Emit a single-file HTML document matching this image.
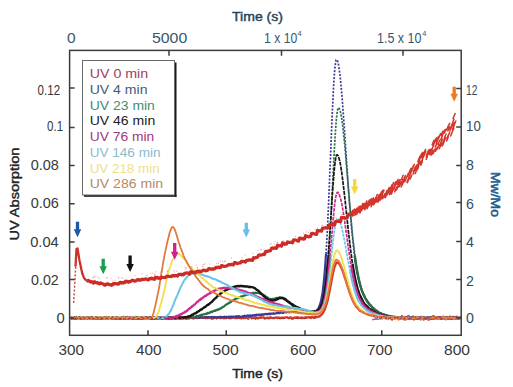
<!DOCTYPE html>
<html><head><meta charset="utf-8">
<style>
html,body{margin:0;padding:0;background:#fff;}
svg{display:block;}
text{font-family:"Liberation Sans",sans-serif;}
</style></head>
<body>
<svg width="513" height="387" viewBox="0 0 513 387">
<rect width="513" height="387" fill="#fff"/>
<!-- curves -->
<g>
<path d="M70.5,317.82 L71.5,317.65 L72.5,318.15 L73.5,317.57 L74.5,318.03 L75.5,317.86 L76.5,317.55 L77.5,318 L78.5,317.53 L79.5,317.93 L80.5,317.56 L81.5,317.58 L82.5,317.91 L83.5,318.32 L84.5,317.61 L85.5,317.71 L86.5,318.11 L87.5,318.43 L88.5,318.06 L89.5,317.88 L90.5,318.46 L91.5,317.53 L92.5,318.34 L93.5,317.77 L94.5,317.62 L95.5,317.59 L96.5,317.78 L97.5,318.29 L98.5,317.65 L99.5,318.05 L100.5,318.11 L101.5,317.84 L102.5,318.02 L103.5,317.53 L104.5,317.53 L105.5,317.67 L106.5,318.14 L107.5,317.89 L108.5,317.77 L109.5,318.04 L110.5,317.91 L111.5,317.76 L112.5,318.25 L113.5,318.15 L114.5,317.7 L115.5,318.02 L116.5,317.97 L117.5,318.32 L118.5,318.18 L119.5,317.73 L120.5,318.42 L121.5,317.56 L122.5,317.86 L123.5,318.2 L124.5,317.59 L125.5,317.92 L126.5,317.47 L127.5,318.1 L128.5,318.2 L129.5,318 L130.5,318.3 L131.5,317.74 L132.5,318.12 L133.5,318.02 L134.5,318 L135.5,317.88 L136.5,318.26 L137.5,318.36 L138.5,317.89 L139.5,318.08 L140.5,317.47 L141.5,318.11 L142.5,318.05 L143.5,318.4 L144.5,318.23 L145.5,317.69 L146.5,317.79 L147.5,318.07 L148.5,317.42 L149.5,317.86 L150.5,317.56 L151.5,317.51 L152.5,317.45 L153.5,318.16 L154.5,317.52 L155.5,317.63 L156.5,317.77 L157.5,318.25 L158.5,317.46 L159.5,317.83 L160.5,317.92 L161.5,318.26 L162.5,318.19 L163.5,318.23 L164.5,317.65 L165.5,317.78 L166.5,317.72 L167.5,318.25 L168.5,318.32 L169.5,317.51 L170.5,317.53 L171.5,317.59 L172.5,317.59 L173.5,317.84 L174.5,317.94 L175.5,317.61 L176.5,317.35 L177.5,317.76 L178.5,317.71 L179.5,317.91 L180.5,318.29 L181.5,318.03 L182.5,317.85 L183.5,317.95 L184.5,318.01 L185.5,317.38 L186.5,318.23 L187.5,318.11 L188.5,318.2 L189.5,318.12 L190.5,317.71 L191.5,317.72 L192.5,317.42 L193.5,317.95 L194.5,317.38 L195.5,317.38 L196.5,317.52 L197.5,317.47 L198.5,317.65 L199.5,317.36 L200.5,317.3 L201.5,317.45 L202.5,317.4 L203.5,317.66 L204.5,317.32 L205.5,318.17 L206.5,317.91 L207.5,317.44 L208.5,317.54 L209.5,317.64 L210.5,317.65 L211.5,317.41 L212.5,318.13 L213.5,318.28 L214.5,317.75 L215.5,317.76 L216.5,317.36 L217.5,317.38 L218.5,317.62 L219.5,317.54 L220.5,318.1 L221.5,317.43 L222.5,317.29 L223.5,318.22 L224.5,317.79 L225.5,317.41 L226.5,317.81 L227.5,317.29 L228.5,317.79 L229.5,318.24 L230.5,318.12 L231.5,317.95 L232.5,317.51 L233.5,317.62 L234.5,317.42 L235.5,318.02 L236.5,317.78 L237.5,318.03 L238.5,317.57 L239.5,317.47 L240.5,318.05 L241.5,318.23 L242.5,318.09 L243.5,318.04 L244.5,318.06 L245.5,317.98 L246.5,317.46 L247.5,317.75 L248.5,317.59 L249.5,317.26 L250.5,317.26 L251.5,317.51 L252.5,317.49 L253.5,317.92 L254.5,318.18 L255.5,317.67 L256.5,318.16 L257.5,318.21 L258.5,318.18 L259.5,317.59 L260.5,317.44 L261.5,317.45 L262.5,317.41 L263.5,317.42 L264.5,317.84 L265.5,318.12 L266.5,318.05 L267.5,317.69 L268.5,317.87 L269.5,318.01 L270.5,317.3 L271.5,317.87 L272.5,318.12 L273.5,317.99 L274.5,317.96 L275.5,317.69 L276.5,317.39 L277.5,318 L278.5,317.54 L279.5,318.01 L280.5,318.18 L281.5,317.6 L282.5,317.61 L283.5,318.15 L284.5,317.93 L285.5,317.37 L286.5,317.33 L287.5,317.35 L288.5,318.11 L289.5,318.01 L290.5,317.35 L291.5,318.03 L292.5,318.18 L293.5,317.85 L294.5,317.55 L295.5,317.74 L296.5,317.32 L297.5,317.2 L298.5,318.15 L299.5,317.83 L300.5,317.7 L301.5,318.1 L302.5,317.59 L303.5,318.02 L304.5,317.96 L305.5,317.32 L306.5,317.34 L307.5,317.36 L308.5,317.28 L309.5,317.59 L310.5,317.22 L311.5,317.33 L312.5,316.98 L313.5,317.68 L314.5,317.04 L315.5,317.02 L316.5,317 L317.5,317.11 L318.5,316.34 L319.5,316.43 L320.5,315.44 L321.5,314.67 L322.5,313.57 L323.5,311.74 L324.5,310.08 L325.5,307.39 L326.5,304.14 L327.5,300.93 L328.5,296.11 L329.5,291.41 L330.5,286.32 L331.5,280.81 L332.5,275.42 L333.5,270.83 L334.5,266.96 L335.5,264.33 L336.5,262.41 L337.5,262.61 L338.5,262.97 L339.5,264.11 L340.5,266.08 L341.5,267.98 L342.5,270.49 L343.5,273.41 L344.5,276.51 L345.5,279.33 L346.5,282.65 L347.5,285.76 L348.5,288.87 L349.5,291.96 L350.5,294.58 L351.5,297.22 L352.5,299.54 L353.5,301.98 L354.5,303.7 L355.5,305.49 L356.5,306.99 L357.5,307.77 L358.5,309.07 L359.5,310.28 L360.5,311.02 L361.5,311.23 L362.5,311.82 L363.5,312.58 L364.5,312.79 L365.5,313.32 L366.5,313.57 L367.5,314.32 L368.5,314.71 L369.5,315.07 L370.5,314.7 L371.5,315.5 L372.5,315.67 L373.5,315.36 L374.5,316.29 L375.5,316.55 L376.5,315.97 L377.5,316.85 L378.5,316.44 L379.5,316.66 L380.5,317.28 L381.5,317.24 L382.5,316.67 L383.5,317.03 L384.5,317.2 L385.5,317.1 L386.5,317.03 L387.5,317.21 L388.5,317.67 L389.5,317.02 L390.5,317.6 L391.5,317.53 L392.5,317.15 L393.5,317.49 L394.5,317.81 L395.5,317.73 L396.5,317.3 L397.5,318.25 L398.5,318.07 L399.5,318.27 L400.5,317.42 L401.5,317.59 L402.5,317.38 L403.5,318.13 L404.5,317.63 L405.5,317.49 L406.5,317.79 L407.5,318.29 L408.5,318.2 L409.5,317.65 L410.5,317.54 L411.5,318.32 L412.5,317.97 L413.5,318.11 L414.5,317.5 L415.5,317.47 L416.5,318.11 L417.5,317.85 L418.5,317.5 L419.5,318.37 L420.5,318.06 L421.5,318.23 L422.5,317.52 L423.5,318.29 L424.5,317.51 L425.5,318.3 L426.5,317.9 L427.5,317.79 L428.5,318 L429.5,318.38 L430.5,317.72 L431.5,317.58 L432.5,317.98 L433.5,317.7 L434.5,317.57 L435.5,317.62 L436.5,317.52 L437.5,317.67 L438.5,317.78 L439.5,317.78 L440.5,318.23 L441.5,317.76 L442.5,317.98 L443.5,317.66 L444.5,317.83 L445.5,317.5 L446.5,317.73 L447.5,317.5 L448.5,318.22 L449.5,318.04 L450.5,317.68 L451.5,317.96 L452.5,318.43 L453.5,317.6 L454.5,318.31 L455.5,317.93 L456.5,317.99 L457.5,318.33 L458.5,317.89 L459.5,318.01 L460.5,318.19" stroke="#d83a2a" stroke-width="2.4" fill="none" stroke-linejoin="round"/>
<path d="M70.5,318.48 L71,317.84 L71.5,318.33 L72,318.2 L72.5,318.13 L73,317.9 L73.5,317.84 L74,317.55 L74.5,317.62 L75,317.56 L75.5,318.23 L76,317.74 L76.5,317.65 L77,317.57 L77.5,318.33 L78,318.36 L78.5,318.15 L79,317.77 L79.5,317.72 L80,317.77 L80.5,317.94 L81,317.64 L81.5,317.92 L82,317.74 L82.5,318.44 L83,318.45 L83.5,318.02 L84,317.72 L84.5,318.44 L85,317.78 L85.5,317.83 L86,317.47 L86.5,317.85 L87,317.94 L87.5,317.97 L88,317.67 L88.5,317.97 L89,317.47 L89.5,317.73 L90,317.55 L90.5,317.86 L91,317.5 L91.5,317.48 L92,317.76 L92.5,317.69 L93,318.04 L93.5,317.99 L94,318.21 L94.5,318.11 L95,318.17 L95.5,318.33 L96,317.84 L96.5,317.78 L97,318.44 L97.5,317.6 L98,318.17 L98.5,318.09 L99,317.49 L99.5,318.28 L100,318.34 L100.5,318.07 L101,318.18 L101.5,318.25 L102,317.58 L102.5,317.96 L103,317.94 L103.5,318.27 L104,318.24 L104.5,318.26 L105,318.02 L105.5,318.33 L106,318.12 L106.5,318.13 L107,317.66 L107.5,317.46 L108,317.56 L108.5,317.79 L109,317.53 L109.5,318.26 L110,317.98 L110.5,318.05 L111,318.05 L111.5,318.1 L112,317.91 L112.5,317.42 L113,318.22 L113.5,318.17 L114,317.92 L114.5,317.95 L115,318.07 L115.5,317.48 L116,318.15 L116.5,317.66 L117,317.48 L117.5,317.67 L118,318.14 L118.5,317.61 L119,318.15 L119.5,318.38 L120,317.9 L120.5,317.78 L121,317.88 L121.5,318.08 L122,318.17 L122.5,318.01 L123,318.04 L123.5,317.47 L124,317.54 L124.5,317.65 L125,318.13 L125.5,317.69 L126,317.96 L126.5,317.4 L127,317.45 L127.5,317.65 L128,318.05 L128.5,318.07 L129,318.06 L129.5,317.67 L130,317.89 L130.5,317.84 L131,317.84 L131.5,317.49 L132,318.26 L132.5,317.57 L133,318.35 L133.5,318.3 L134,317.38 L134.5,317.82 L135,318.18 L135.5,318.33 L136,317.81 L136.5,317.63 L137,317.57 L137.5,318.3 L138,317.56 L138.5,317.93 L139,317.49 L139.5,317.87 L140,318.3 L140.5,317.48 L141,318.16 L141.5,317.85 L142,318.23 L142.5,318.04 L143,317.57 L143.5,318.23 L144,317.82 L144.5,317.36 L145,317.33 L145.5,317.82 L146,317.78 L146.5,317.62 L147,317.46 L147.5,317.66 L148,317.63 L148.5,318.16 L149,317.32 L149.5,318.06 L150,318.15 L150.5,317.43 L151,318.23 L151.5,318.02 L152,318.2 L152.5,317.59 L153,317.67 L153.5,317.69 L154,318.29 L154.5,317.88 L155,317.65 L155.5,317.71 L156,317.56 L156.5,317.33 L157,317.38 L157.5,318.11 L158,317.56 L158.5,318.21 L159,317.52 L159.5,317.53 L160,317.78 L160.5,317.45 L161,317.63 L161.5,318.21 L162,318.14 L162.5,318.07 L163,317.88 L163.5,318.16 L164,318.19 L164.5,317.79 L165,317.96 L165.5,317.29 L166,317.97 L166.5,317.68 L167,317.98 L167.5,317.87 L168,317.51 L168.5,317.27 L169,318.15 L169.5,317.34 L170,317.69 L170.5,317.55 L171,317.51 L171.5,317.94 L172,318.18 L172.5,317.46 L173,317.85 L173.5,317.49 L174,317.75 L174.5,317.58 L175,317.35 L175.5,317.34 L176,317.39 L176.5,318.08 L177,317.67 L177.5,317.39 L178,318.07 L178.5,318.16 L179,317.61 L179.5,317.3 L180,317.35 L180.5,317.24 L181,317.49 L181.5,317.23 L182,317.38 L182.5,317.39 L183,317.7 L183.5,318.02 L184,317.88 L184.5,317.54 L185,317.53 L185.5,317.64 L186,317.49 L186.5,317.45 L187,317.17 L187.5,317.38 L188,318.06 L188.5,317.22 L189,317.59 L189.5,317.72 L190,317.95 L190.5,317.29 L191,317.35 L191.5,317.32 L192,317.47 L192.5,317.51 L193,318.01 L193.5,317.9 L194,317.92 L194.5,317.07 L195,317.07 L195.5,317.75 L196,317.93 L196.5,317.5 L197,317.61 L197.5,317.02 L198,317.41 L198.5,317.94 L199,317.83 L199.5,317.86 L200,317.97 L200.5,317.24 L201,317.1 L201.5,317.14 L202,317.5 L202.5,317.66 L203,317.91 L203.5,317.69 L204,317.61 L204.5,317.72 L205,317.41 L205.5,317.5 L206,316.98 L206.5,317.72 L207,317.16 L207.5,317.85 L208,317.56 L208.5,317.22 L209,317.04 L209.5,317.15 L210,317.53 L210.5,317.59 L211,316.99 L211.5,316.94 L212,317.39 L212.5,317.44 L213,317.24 L213.5,317.07 L214,317.44 L214.5,316.84 L215,317.12 L215.5,317.27 L216,317.76 L216.5,317.44 L217,317.67 L217.5,317.25 L218,317 L218.5,317 L219,317.71 L219.5,317.44 L220,317.03 L220.5,316.73 L221,317.2 L221.5,317.36 L222,317.1 L222.5,316.92 L223,317.32 L223.5,317.56 L224,316.85 L224.5,316.65 L225,316.94 L225.5,317.01 L226,317.25 L226.5,316.75 L227,317.34 L227.5,317.26 L228,317.01 L228.5,316.7 L229,317.45 L229.5,316.77 L230,317.26 L230.5,316.65 L231,316.63 L231.5,317.15 L232,316.66 L232.5,317.3 L233,316.82 L233.5,316.49 L234,316.51 L234.5,316.68 L235,316.91 L235.5,317.17 L236,316.34 L236.5,316.57 L237,316.36 L237.5,317.1 L238,316.24 L238.5,316.13 L239,316.11 L239.5,316.42 L240,316.9 L240.5,316.86 L241,316.68 L241.5,316.91 L242,316.81 L242.5,316.18 L243,316 L243.5,316.72 L244,316.49 L244.5,315.74 L245,316.34 L245.5,316.01 L246,315.97 L246.5,315.88 L247,315.68 L247.5,315.47 L248,315.71 L248.5,315.73 L249,316.29 L249.5,315.42 L250,316.21 L250.5,315.41 L251,315.51 L251.5,315.93 L252,315.88 L252.5,315.44 L253,315.01 L253.5,315.38 L254,315.23 L254.5,315.73 L255,314.95 L255.5,315.07 L256,315.56 L256.5,314.64 L257,314.97 L257.5,315.32 L258,315.14 L258.5,314.58 L259,314.52 L259.5,314.49 L260,315.04 L260.5,314.53 L261,314.82 L261.5,314.87 L262,314.43 L262.5,314.33 L263,314.76 L263.5,314.47 L264,314.18 L264.5,314.44 L265,314.11 L265.5,314.04 L266,313.8 L266.5,314.28 L267,314.34 L267.5,314.1 L268,314.27 L268.5,313.58 L269,313.68 L269.5,313.81 L270,314.1 L270.5,314.06 L271,313.62 L271.5,313.48 L272,313.57 L272.5,313.57 L273,313.82 L273.5,313.26 L274,313.64 L274.5,313.55 L275,313.56 L275.5,313.47 L276,313.31 L276.5,313.06 L277,313 L277.5,312.98 L278,313.22 L278.5,312.68 L279,312.71 L279.5,313.04 L280,312.64 L280.5,312.46 L281,312.39 L281.5,312.7 L282,312.49 L282.5,312.9 L283,312.79 L283.5,312.82 L284,312.27 L284.5,312.1 L285,312.06 L285.5,312.3 L286,312.41 L286.5,312.19 L287,312.01 L287.5,312.1 L288,312.21 L288.5,312.22 L289,312.25 L289.5,312.29 L290,312.14 L290.5,311.75 L291,312.23 L291.5,311.84 L292,312.02 L292.5,311.87 L293,312.12 L293.5,311.74 L294,311.78 L294.5,311.78 L295,311.72 L295.5,312.25 L296,312.05 L296.5,311.9 L297,311.97 L297.5,312.42 L298,312.11 L298.5,311.95 L299,312.4 L299.5,312.33 L300,312.61 L300.5,312.03 L301,312.34 L301.5,312.63 L302,312.69 L302.5,312.79 L303,312.23 L303.5,312.45 L304,312.37 L304.5,312.47 L305,313.05 L305.5,312.82 L306,313.1 L306.5,312.73 L307,313.1 L307.5,312.83 L308,312.71 L308.5,313.08 L309,313.2 L309.5,312.6 L310,312.92 L310.5,312.91 L311,312.58 L311.5,312.63 L312,312.4 L312.5,312.36 L313,312.28 L313.5,312.39 L314,312.27 L314.5,311.77 L315,311.4 L315.5,311.35 L316,311.26 L316.5,310.52 L317,310.13 L317.5,309.47 L318,309.19 L318.5,308.19 L319,306.86 L319.5,305.71 L320,304.52 L320.5,302.96 L321,301.06 L321.5,298.36 L322,295.7 L322.5,292.91 L323,289.05 L323.5,284.75 L324,279.96 L324.5,274.96 L325,268.37 L325.5,261.69 L326,253.94" stroke="#3a3a9a" stroke-width="2.2" fill="none" stroke-linejoin="round"/>
<path d="M326,253.94 L326.5,245.63 L327,236.84 L327.5,227.12 L328,216.18 L328.5,204.95 L329,193.68 L329.5,181.25 L330,168.75 L330.5,156.87 L331,144.05 L331.5,132.03 L332,119.82 L332.5,108.82 L333,97.95 L333.5,88.14 L334,79.57 L334.5,72.78 L335,67.12 L335.5,63.14 L336,60.04 L336.5,59.59 L337,59.77 L337.5,60.89 L338,62.31 L338.5,64.72 L339,67.82 L339.5,71.63 L340,75.15 L340.5,80.03 L341,85.36 L341.5,91.03 L342,96.46 L342.5,102.73 L343,109.93 L343.5,116.84 L344,123.59 L344.5,130.56 L345,138.55 L345.5,145.61 L346,153.44 L346.5,160.7 L347,168.23 L347.5,175.06 L348,182.66 L348.5,189.28 L349,196.23 L349.5,203.15 L350,209.52 L350.5,215.21 L351,221.13 L351.5,226.88 L352,232.31 L352.5,237.3 L353,241.92 L353.5,246.55 L354,251.15 L354.5,255.28" stroke="#3a3a9a" stroke-width="1.7" fill="none" stroke-dasharray="2 1.5"/>
<path d="M354.5,255.28 L355,258.43 L355.5,262.3 L356,265.72 L356.5,268.27 L357,271.67 L357.5,273.8 L358,276.6 L358.5,278.84 L359,281.01 L359.5,282.75 L360,284.66 L360.5,286.47 L361,287.94 L361.5,289.58 L362,290.81 L362.5,292.08 L363,293 L363.5,294.54 L364,295.52 L364.5,296.34 L365,297.66 L365.5,298.56 L366,299.19 L366.5,299.8 L367,300.78 L367.5,301.26 L368,301.98 L368.5,302.86 L369,303.27 L369.5,304.14 L370,304.79 L370.5,305.03 L371,306 L371.5,306.15 L372,307.12 L372.5,307.65 L373,307.94 L373.5,308.08 L374,308.84 L374.5,309.18 L375,310 L375.5,309.83 L376,310.72 L376.5,311.18 L377,311.36 L377.5,311.76 L378,311.65 L378.5,312.52 L379,312.48 L379.5,313.1 L380,313.35 L380.5,313.1 L381,313.79 L381.5,314.14 L382,313.77 L382.5,314.2 L383,314.7 L383.5,314.48 L384,315.2 L384.5,314.88 L385,315.6 L385.5,315.09 L386,315.6 L386.5,316.16 L387,315.59 L387.5,315.78 L388,316.14 L388.5,316.07 L389,315.9 L389.5,316.15 L390,316.23 L390.5,317.1 L391,316.93 L391.5,317.23 L392,316.58 L392.5,317.27 L393,316.67 L393.5,317.15 L394,317.31 L394.5,317.09 L395,317.66 L395.5,317.39 L396,317.47 L396.5,317.81 L397,317.08 L397.5,318 L398,317.68 L398.5,317.47 L399,317.91 L399.5,317.41 L400,318.16 L400.5,317.77 L401,317.58 L401.5,318 L402,317.7 L402.5,317.46 L403,318.04 L403.5,317.36 L404,318.15 L404.5,317.6 L405,317.99 L405.5,318.35 L406,317.96 L406.5,318.05 L407,317.71 L407.5,317.41 L408,317.45 L408.5,317.57 L409,318.04 L409.5,317.87 L410,317.95 L410.5,318.34 L411,317.58 L411.5,317.68 L412,318.11 L412.5,317.48 L413,317.47 L413.5,317.82 L414,317.58 L414.5,317.83 L415,317.7 L415.5,318.06 L416,318.07 L416.5,317.69 L417,318.11 L417.5,317.96 L418,317.62 L418.5,318.43 L419,317.73 L419.5,317.64 L420,317.59 L420.5,318.13 L421,318.36 L421.5,318.28 L422,317.9 L422.5,317.76 L423,317.51 L423.5,318.14 L424,318.06 L424.5,317.85 L425,318.14 L425.5,317.94 L426,318.43 L426.5,318.23 L427,317.75 L427.5,318.4 L428,317.54 L428.5,318.03 L429,317.9 L429.5,317.74 L430,317.56 L430.5,318.28 L431,317.51 L431.5,318.05 L432,318.44 L432.5,317.64 L433,317.7 L433.5,318.11 L434,318.01 L434.5,318.14 L435,318.31 L435.5,317.67 L436,317.81 L436.5,317.8 L437,317.55 L437.5,318.39 L438,318.28 L438.5,318.22 L439,317.51 L439.5,318.34 L440,318.25 L440.5,317.97 L441,318.24 L441.5,317.95 L442,317.73 L442.5,317.61 L443,317.73 L443.5,317.54 L444,317.84 L444.5,318.25 L445,318.2 L445.5,318.35 L446,318.21 L446.5,317.77 L447,318.05 L447.5,317.94 L448,318.29 L448.5,318.02 L449,317.77 L449.5,318.14 L450,318.47 L450.5,317.72 L451,318.38 L451.5,317.52 L452,317.76 L452.5,317.74 L453,318.24 L453.5,318.44 L454,318.25 L454.5,317.83 L455,318.38 L455.5,317.83 L456,317.74 L456.5,318.41 L457,318.13 L457.5,318.19 L458,318.17 L458.5,318.48 L459,317.97 L459.5,318.34 L460,318.2 L460.5,318.36" stroke="#3a3a9a" stroke-width="2.2" fill="none" stroke-linejoin="round"/>
<path d="M70.5,317.94 L71,318.22 L71.5,318.07 L72,317.81 L72.5,317.71 L73,318.12 L73.5,317.58 L74,318.41 L74.5,317.64 L75,317.53 L75.5,317.61 L76,318.43 L76.5,317.84 L77,317.64 L77.5,317.53 L78,317.54 L78.5,318.19 L79,318.13 L79.5,318.2 L80,318.24 L80.5,317.57 L81,318.09 L81.5,317.86 L82,318.32 L82.5,318.32 L83,318.39 L83.5,317.57 L84,318.37 L84.5,318.41 L85,318.44 L85.5,317.61 L86,317.71 L86.5,317.61 L87,317.53 L87.5,318.35 L88,318.31 L88.5,318.13 L89,318.33 L89.5,318.13 L90,317.79 L90.5,317.6 L91,317.6 L91.5,318.26 L92,317.7 L92.5,317.82 L93,317.92 L93.5,317.52 L94,317.76 L94.5,317.78 L95,318.22 L95.5,317.87 L96,317.82 L96.5,318.46 L97,318 L97.5,318.35 L98,318.12 L98.5,317.53 L99,317.91 L99.5,317.94 L100,318.27 L100.5,317.85 L101,318.2 L101.5,318.04 L102,317.72 L102.5,318.36 L103,317.59 L103.5,318.32 L104,317.67 L104.5,317.5 L105,317.7 L105.5,318.26 L106,318.48 L106.5,317.5 L107,317.99 L107.5,317.99 L108,318.3 L108.5,317.68 L109,317.99 L109.5,317.85 L110,318.33 L110.5,317.76 L111,318.44 L111.5,317.78 L112,317.71 L112.5,318.2 L113,318 L113.5,317.61 L114,318.14 L114.5,317.58 L115,318.29 L115.5,318.2 L116,318.29 L116.5,318.13 L117,317.86 L117.5,317.9 L118,317.89 L118.5,318.39 L119,317.59 L119.5,318.39 L120,317.53 L120.5,317.71 L121,317.76 L121.5,318.4 L122,318 L122.5,317.88 L123,318.38 L123.5,317.73 L124,317.96 L124.5,318.03 L125,318.25 L125.5,318.25 L126,318.15 L126.5,317.85 L127,317.83 L127.5,317.66 L128,318.34 L128.5,318.16 L129,318.24 L129.5,317.67 L130,317.94 L130.5,318.27 L131,318.08 L131.5,317.63 L132,317.96 L132.5,318.39 L133,317.74 L133.5,317.69 L134,317.8 L134.5,318.2 L135,318.34 L135.5,317.65 L136,317.66 L136.5,317.75 L137,317.83 L137.5,318.02 L138,317.66 L138.5,317.83 L139,317.69 L139.5,318.48 L140,318.23 L140.5,317.6 L141,318.46 L141.5,317.6 L142,317.88 L142.5,318.48 L143,318.29 L143.5,318.23 L144,317.93 L144.5,317.7 L145,318.14 L145.5,317.61 L146,317.71 L146.5,317.89 L147,317.53 L147.5,317.9 L148,318.29 L148.5,318.19 L149,318 L149.5,318.13 L150,317.96 L150.5,317.64 L151,318.1 L151.5,317.9 L152,318.24 L152.5,318.41 L153,317.93 L153.5,318.07 L154,318.25 L154.5,317.92 L155,317.73 L155.5,318.22 L156,318.38 L156.5,318.27 L157,318.2 L157.5,318.35 L158,318.18 L158.5,318.14 L159,317.95 L159.5,317.81 L160,318.13 L160.5,317.6 L161,317.92 L161.5,318.28 L162,318.21 L162.5,318.13 L163,317.75 L163.5,317.92 L164,317.96 L164.5,318.12 L165,317.91 L165.5,318.18 L166,318.43 L166.5,317.68 L167,318.15 L167.5,318.28 L168,317.89 L168.5,317.99 L169,318.47 L169.5,317.54 L170,318.04 L170.5,317.66 L171,318.28 L171.5,318.44 L172,318.02 L172.5,317.6 L173,318.07 L173.5,318.04 L174,318.22 L174.5,318.01 L175,318.14 L175.5,318.33 L176,318.02 L176.5,317.91 L177,318.45 L177.5,317.71 L178,318.18 L178.5,317.89 L179,318.26 L179.5,317.62 L180,318.48 L180.5,317.86 L181,317.56 L181.5,317.77 L182,317.9 L182.5,317.51 L183,317.92 L183.5,317.92 L184,318.2 L184.5,317.85 L185,317.77 L185.5,317.7 L186,318.18 L186.5,318.34 L187,317.88 L187.5,317.53 L188,318.06 L188.5,317.6 L189,317.36 L189.5,317.22 L190,317.8 L190.5,317.77 L191,317.52 L191.5,317.28 L192,317.29 L192.5,316.87 L193,317.52 L193.5,316.82 L194,317.01 L194.5,317.1 L195,317 L195.5,316.54 L196,316.26 L196.5,316.41 L197,315.87 L197.5,316.47 L198,315.87 L198.5,316.25 L199,315.54 L199.5,315.52 L200,315.27 L200.5,315.31 L201,314.94 L201.5,314.62 L202,315.13 L202.5,314.68 L203,314.51 L203.5,314.41 L204,314.38 L204.5,314.2 L205,314.19 L205.5,314.05 L206,313.69 L206.5,313.92 L207,313.71 L207.5,312.99 L208,313.36 L208.5,313.25 L209,313 L209.5,312.38 L210,312.69 L210.5,312.38 L211,311.77 L211.5,311.6 L212,312.08 L212.5,311.69 L213,311.23 L213.5,310.94 L214,310.79 L214.5,310.67 L215,310.86 L215.5,310.38 L216,310.06 L216.5,310.4 L217,310.13 L217.5,309.49 L218,309.79 L218.5,309.37 L219,309.25 L219.5,308.93 L220,308.84 L220.5,308.5 L221,308.26 L221.5,307.53 L222,307.59 L222.5,307.19 L223,307.04 L223.5,306.52 L224,306.52 L224.5,305.97 L225,305.45 L225.5,305.11 L226,304.72 L226.5,304.64 L227,304 L227.5,303.96 L228,303.4 L228.5,303.31 L229,302.99 L229.5,302.69 L230,302.58 L230.5,301.66 L231,301.92 L231.5,301.34 L232,301.09 L232.5,300.85 L233,300.67 L233.5,300.04 L234,299.78 L234.5,299.87 L235,298.97 L235.5,299.1 L236,298.83 L236.5,298.16 L237,298.33 L237.5,298.16 L238,298.12 L238.5,297.5 L239,297.75 L239.5,297.23 L240,297.03 L240.5,297.14 L241,296.36 L241.5,296.67 L242,296.43 L242.5,296.06 L243,296.25 L243.5,295.73 L244,295.63 L244.5,295.48 L245,295.47 L245.5,294.9 L246,294.87 L246.5,294.68 L247,294.59 L247.5,294.6 L248,294.06 L248.5,294.27 L249,293.81 L249.5,293.73 L250,293.43 L250.5,293.46 L251,293.67 L251.5,293.34 L252,293.34 L252.5,292.94 L253,292.87 L253.5,292.81 L254,292.98 L254.5,292.99 L255,293.08 L255.5,292.55 L256,293.04 L256.5,293.17 L257,292.97 L257.5,292.67 L258,292.9 L258.5,292.77 L259,292.98 L259.5,293.59 L260,293.49 L260.5,293.65 L261,293.88 L261.5,294.12 L262,294.08 L262.5,294.29 L263,294.55 L263.5,294.9 L264,295.17 L264.5,295.6 L265,295.66 L265.5,296.38 L266,296.63 L266.5,297.24 L267,297.16 L267.5,297.58 L268,297.81 L268.5,298.62 L269,298.97 L269.5,298.98 L270,298.91 L270.5,299.3 L271,299.32 L271.5,299.18 L272,298.95 L272.5,298.94 L273,298.96 L273.5,298.81 L274,298.8 L274.5,298.84 L275,298.92 L275.5,298.19 L276,298.42 L276.5,297.92 L277,297.86 L277.5,298.22 L278,297.95 L278.5,298.1 L279,297.69 L279.5,297.32 L280,297.54 L280.5,297.67 L281,297.92 L281.5,298 L282,297.72 L282.5,297.79 L283,297.72 L283.5,298.29 L284,298.22 L284.5,298.44 L285,298.63 L285.5,298.94 L286,299.76 L286.5,299.74 L287,300.72 L287.5,300.51 L288,301.48 L288.5,301.4 L289,301.76 L289.5,302.71 L290,302.83 L290.5,303.64 L291,303.71 L291.5,304.08 L292,305.04 L292.5,305.44 L293,305.97 L293.5,306.31 L294,306.26 L294.5,307.04 L295,307.46 L295.5,307.63 L296,308.28 L296.5,308.1 L297,308.87 L297.5,308.95 L298,308.69 L298.5,308.9 L299,309.54 L299.5,309.84 L300,309.49 L300.5,309.81 L301,310.25 L301.5,309.99 L302,310.6 L302.5,310.47 L303,310.29 L303.5,310.62 L304,310.89 L304.5,310.91 L305,311.19 L305.5,310.92 L306,311.49 L306.5,311.28 L307,311.58 L307.5,311.66 L308,311.59 L308.5,311.65 L309,312 L309.5,312.17 L310,312.11 L310.5,312 L311,311.84 L311.5,311.71 L312,312.36 L312.5,312.17 L313,312.24 L313.5,311.86 L314,312.01 L314.5,312.2 L315,312.01 L315.5,311.74 L316,311.4 L316.5,311.32 L317,311.45 L317.5,310.86 L318,310.81 L318.5,310.43 L319,310.26 L319.5,309.74 L320,308.82 L320.5,307.97 L321,307.37 L321.5,306.54 L322,305.54 L322.5,304.37 L323,302.84 L323.5,300.39 L324,298.77 L324.5,296.21 L325,293.3 L325.5,289.71 L326,285.62 L326.5,281.63 L327,276.64 L327.5,271.02 L328,265.04 L328.5,257.9 L329,250.36" stroke="#2a7040" stroke-width="2.2" fill="none" stroke-linejoin="round"/>
<path d="M329,250.36 L329.5,242.76 L330,234.45 L330.5,225.05 L331,216.03 L331.5,206.41 L332,195.93 L332.5,186.08 L333,176.03 L333.5,165.95 L334,156.13 L334.5,147 L335,138.81 L335.5,131.08 L336,124.01 L336.5,117.97 L337,113.85 L337.5,110.47 L338,108.07 L338.5,107.66 L339,108.19 L339.5,109.02 L340,110.14 L340.5,112 L341,114.47 L341.5,117.06 L342,120.39 L342.5,124.13 L343,128.65 L343.5,132.93 L344,137.91 L344.5,142.93 L345,148.39 L345.5,153.73 L346,159.42 L346.5,165.98 L347,171.53 L347.5,177.39 L348,183.82 L348.5,189.97 L349,195.53 L349.5,201.76 L350,207.4 L350.5,213.21 L351,218.4 L351.5,223.77 L352,229.63 L352.5,234.53 L353,239.05 L353.5,243.67 L354,247.8 L354.5,252.29 L355,255.95" stroke="#2a7040" stroke-width="1.7" fill="none" stroke-dasharray="2.2 1.3"/>
<path d="M355,255.95 L355.5,260 L356,263.35 L356.5,266.64 L357,269.79 L357.5,272.15 L358,274.67 L358.5,277.27 L359,279.57 L359.5,281.65 L360,283.63 L360.5,285.84 L361,287.79 L361.5,289.11 L362,290.94 L362.5,292.3 L363,293 L363.5,294.58 L364,295.57 L364.5,296.42 L365,298 L365.5,298.43 L366,299.52 L366.5,300.4 L367,301.4 L367.5,301.93 L368,302.44 L368.5,303.15 L369,303.58 L369.5,304.75 L370,305.35 L370.5,305.37 L371,305.77 L371.5,306.44 L372,307 L372.5,307.86 L373,308.33 L373.5,308.72 L374,308.59 L374.5,309.52 L375,309.87 L375.5,310.21 L376,310.81 L376.5,310.52 L377,310.93 L377.5,311.69 L378,312.14 L378.5,312.26 L379,312.29 L379.5,312.79 L380,313.18 L380.5,312.99 L381,313.39 L381.5,313.59 L382,313.73 L382.5,314.21 L383,314.21 L383.5,314.46 L384,314.59 L384.5,315.21 L385,314.73 L385.5,315.59 L386,315.22 L386.5,315.2 L387,316.23 L387.5,315.65 L388,316.49 L388.5,316.54 L389,316.67 L389.5,316.03 L390,316.44 L390.5,316.18 L391,317.1 L391.5,317.1 L392,316.97 L392.5,316.87 L393,316.83 L393.5,317.38 L394,317.09 L394.5,317.3 L395,316.87 L395.5,317.01 L396,316.89 L396.5,317.59 L397,317.48 L397.5,317.11 L398,317.87 L398.5,317.3 L399,317.48 L399.5,317.26 L400,317.4 L400.5,318 L401,317.52 L401.5,317.38 L402,317.72 L402.5,317.57 L403,318.17 L403.5,317.4 L404,318.28 L404.5,317.38 L405,318.23 L405.5,318.02 L406,317.57 L406.5,317.85 L407,317.67 L407.5,317.65 L408,317.6 L408.5,317.77 L409,318.41 L409.5,318.42 L410,318.36 L410.5,317.53 L411,317.73 L411.5,318.34 L412,317.51 L412.5,318.18 L413,317.75 L413.5,318.44 L414,317.48 L414.5,318.28 L415,317.81 L415.5,317.62 L416,317.48 L416.5,318.31 L417,318.01 L417.5,317.67 L418,317.92 L418.5,318.4 L419,317.71 L419.5,318.06 L420,317.63 L420.5,317.67 L421,318.26 L421.5,318.2 L422,317.69 L422.5,317.57 L423,317.58 L423.5,318.1 L424,317.99 L424.5,317.77 L425,317.7 L425.5,318.11 L426,318.2 L426.5,318.31 L427,318.08 L427.5,317.7 L428,317.56 L428.5,318.23 L429,317.91 L429.5,318.22 L430,317.55 L430.5,318.31 L431,317.83 L431.5,318.34 L432,318.36 L432.5,317.99 L433,317.51 L433.5,318.41 L434,317.98 L434.5,318.37 L435,317.77 L435.5,317.69 L436,318.33 L436.5,317.87 L437,317.66 L437.5,317.87 L438,318.09 L438.5,317.5 L439,318.02 L439.5,317.95 L440,318.02 L440.5,317.62 L441,318.21 L441.5,318.32 L442,318.37 L442.5,317.82 L443,318.21 L443.5,317.88 L444,318.25 L444.5,317.56 L445,318.37 L445.5,318.45 L446,317.99 L446.5,318.01 L447,318.03 L447.5,318.04 L448,317.52 L448.5,318.47 L449,317.72 L449.5,317.68 L450,317.6 L450.5,317.75 L451,318.32 L451.5,317.53 L452,317.6 L452.5,318.2 L453,317.7 L453.5,317.52 L454,318.1 L454.5,318.08 L455,318.02 L455.5,318.2 L456,317.6 L456.5,318.37 L457,318.22 L457.5,317.55 L458,317.62 L458.5,317.99 L459,318 L459.5,317.78 L460,317.62 L460.5,317.91" stroke="#2a7040" stroke-width="2.2" fill="none" stroke-linejoin="round"/>
<path d="M70.5,317.64 L71,318.09 L71.5,318.36 L72,317.65 L72.5,318.07 L73,318.25 L73.5,317.66 L74,318.33 L74.5,318.44 L75,317.89 L75.5,317.92 L76,318.34 L76.5,318.03 L77,317.9 L77.5,318.44 L78,318.28 L78.5,317.84 L79,317.74 L79.5,317.84 L80,317.94 L80.5,318.48 L81,318.3 L81.5,318.41 L82,318.32 L82.5,318.35 L83,317.55 L83.5,318.02 L84,318.46 L84.5,318.43 L85,317.75 L85.5,317.92 L86,318.13 L86.5,317.86 L87,318.03 L87.5,317.57 L88,317.93 L88.5,318 L89,317.52 L89.5,317.64 L90,318.47 L90.5,318.28 L91,318.44 L91.5,318.13 L92,318.31 L92.5,318.38 L93,318.38 L93.5,317.53 L94,318.14 L94.5,317.77 L95,318.18 L95.5,317.77 L96,318.04 L96.5,318.42 L97,318.12 L97.5,317.75 L98,318.02 L98.5,317.93 L99,318.45 L99.5,317.79 L100,317.81 L100.5,318.15 L101,317.62 L101.5,318.09 L102,318.46 L102.5,318.01 L103,317.77 L103.5,317.97 L104,318.03 L104.5,317.65 L105,317.62 L105.5,317.63 L106,317.79 L106.5,317.91 L107,317.79 L107.5,317.74 L108,317.59 L108.5,318.05 L109,318.34 L109.5,318.11 L110,318.07 L110.5,318.15 L111,317.7 L111.5,318.21 L112,317.96 L112.5,318.05 L113,318.11 L113.5,317.97 L114,317.81 L114.5,317.74 L115,317.72 L115.5,318.01 L116,317.88 L116.5,318.09 L117,317.51 L117.5,317.85 L118,318.36 L118.5,317.74 L119,318.06 L119.5,317.99 L120,317.78 L120.5,318.49 L121,317.8 L121.5,318.27 L122,317.66 L122.5,317.57 L123,318.37 L123.5,317.94 L124,317.56 L124.5,317.89 L125,317.94 L125.5,318.24 L126,317.61 L126.5,317.73 L127,318.46 L127.5,318.24 L128,317.65 L128.5,317.84 L129,317.85 L129.5,318.18 L130,318.12 L130.5,318.35 L131,318.32 L131.5,318.02 L132,318.24 L132.5,318.24 L133,318.26 L133.5,317.98 L134,318.28 L134.5,318.21 L135,318.41 L135.5,317.63 L136,318.37 L136.5,317.5 L137,318.27 L137.5,318.09 L138,318 L138.5,318.46 L139,318.07 L139.5,317.92 L140,318.28 L140.5,318.37 L141,318.11 L141.5,317.88 L142,317.95 L142.5,317.96 L143,318.22 L143.5,317.79 L144,317.89 L144.5,318.06 L145,317.88 L145.5,317.82 L146,318.29 L146.5,318.35 L147,318 L147.5,317.94 L148,317.68 L148.5,317.8 L149,317.64 L149.5,318.08 L150,318.08 L150.5,317.59 L151,318.42 L151.5,317.82 L152,318.34 L152.5,318.34 L153,318.46 L153.5,317.7 L154,317.93 L154.5,318.41 L155,317.51 L155.5,317.55 L156,318.06 L156.5,318 L157,318.42 L157.5,318.27 L158,318.04 L158.5,318.5 L159,318.02 L159.5,318.02 L160,318.19 L160.5,317.89 L161,317.86 L161.5,318.09 L162,317.85 L162.5,318.45 L163,318.18 L163.5,318.03 L164,317.6 L164.5,317.87 L165,317.9 L165.5,318.06 L166,318.07 L166.5,318.38 L167,318.46 L167.5,317.99 L168,317.94 L168.5,318.12 L169,318.5 L169.5,317.84 L170,318.03 L170.5,318.32 L171,317.67 L171.5,317.82 L172,318.48 L172.5,318.33 L173,318.01 L173.5,317.61 L174,318.39 L174.5,318.19 L175,318.32 L175.5,318.49 L176,318.39 L176.5,317.92 L177,317.66 L177.5,317.78 L178,317.99 L178.5,317.98 L179,317.65 L179.5,317.63 L180,318.06 L180.5,318.02 L181,317.74 L181.5,318.35 L182,317.96 L182.5,317.33 L183,317.65 L183.5,317.97 L184,317.43 L184.5,317.74 L185,316.97 L185.5,317.18 L186,317.62 L186.5,317.25 L187,317.21 L187.5,316.6 L188,316.75 L188.5,316.64 L189,316.17 L189.5,316.36 L190,316.03 L190.5,316.27 L191,315.62 L191.5,315.22 L192,314.69 L192.5,314.57 L193,314.74 L193.5,314.02 L194,313.74 L194.5,313.52 L195,313.48 L195.5,313.4 L196,312.96 L196.5,312.8 L197,311.97 L197.5,311.63 L198,311.85 L198.5,311.22 L199,311.17 L199.5,310.59 L200,310.13 L200.5,309.87 L201,309.42 L201.5,309.64 L202,309.07 L202.5,308.56 L203,308.28 L203.5,307.89 L204,307.3 L204.5,307.53 L205,306.96 L205.5,306.86 L206,306.14 L206.5,305.9 L207,305.28 L207.5,304.77 L208,305.03 L208.5,304.61 L209,303.87 L209.5,303.9 L210,303.45 L210.5,302.68 L211,302.46 L211.5,302.27 L212,301.5 L212.5,301.35 L213,300.39 L213.5,300.01 L214,299.76 L214.5,298.93 L215,298.5 L215.5,298.41 L216,297.65 L216.5,297.39 L217,296.53 L217.5,296.02 L218,295.69 L218.5,295.12 L219,295.24 L219.5,294.34 L220,294.13 L220.5,293.44 L221,293.37 L221.5,292.92 L222,292.6 L222.5,292.05 L223,291.77 L223.5,291.95 L224,291.31 L224.5,290.94 L225,290.61 L225.5,290.38 L226,290.07 L226.5,289.66 L227,289.83 L227.5,289.35 L228,288.97 L228.5,289.11 L229,288.44 L229.5,288.34 L230,288.52 L230.5,287.81 L231,287.83 L231.5,287.91 L232,287.71 L232.5,287.09 L233,287.06 L233.5,287.16 L234,286.78 L234.5,287.05 L235,286.41 L235.5,286.82 L236,286.4 L236.5,286.13 L237,286.21 L237.5,285.93 L238,286.28 L238.5,285.93 L239,286.35 L239.5,286.12 L240,285.95 L240.5,285.87 L241,286.13 L241.5,285.87 L242,286.36 L242.5,285.87 L243,286.18 L243.5,286.24 L244,286.1 L244.5,286.5 L245,286.28 L245.5,286.53 L246,286.53 L246.5,286.41 L247,286.53 L247.5,286.39 L248,286.52 L248.5,287.05 L249,286.75 L249.5,287.05 L250,286.73 L250.5,287.11 L251,287.04 L251.5,287.22 L252,287.17 L252.5,287.13 L253,287.43 L253.5,287.53 L254,287.65 L254.5,288.28 L255,288.23 L255.5,288.6 L256,289.29 L256.5,289.55 L257,290.02 L257.5,290.41 L258,290.32 L258.5,290.87 L259,291.15 L259.5,292.08 L260,292.54 L260.5,292.81 L261,293.35 L261.5,294.02 L262,294.54 L262.5,294.72 L263,295.63 L263.5,295.77 L264,296.44 L264.5,296.59 L265,297 L265.5,298 L266,298.29 L266.5,298.68 L267,298.59 L267.5,298.95 L268,299.36 L268.5,299.67 L269,299.98 L269.5,300.21 L270,300.1 L270.5,300.38 L271,300.66 L271.5,300.36 L272,300.81 L272.5,300.6 L273,300.66 L273.5,300.28 L274,300.35 L274.5,300.45 L275,300.08 L275.5,299.67 L276,300.05 L276.5,299.79 L277,299.21 L277.5,298.8 L278,299.13 L278.5,298.73 L279,298.12 L279.5,298.07 L280,297.83 L280.5,298.2 L281,297.73 L281.5,298.22 L282,298.17 L282.5,297.84 L283,298.43 L283.5,298.43 L284,298.93 L284.5,299.26 L285,299.18 L285.5,299.38 L286,300.33 L286.5,300.32 L287,301.05 L287.5,301.27 L288,301.69 L288.5,302.14 L289,302.38 L289.5,302.63 L290,302.72 L290.5,303.51 L291,303.65 L291.5,304 L292,304.58 L292.5,304.3 L293,305.03 L293.5,304.82 L294,305.56 L294.5,305.92 L295,305.82 L295.5,306.29 L296,306.87 L296.5,306.91 L297,307.11 L297.5,307.17 L298,307.3 L298.5,307.76 L299,308.05 L299.5,308.15 L300,308.46 L300.5,308.57 L301,309.19 L301.5,309.38 L302,309.29 L302.5,309.49 L303,309.87 L303.5,309.99 L304,310.51 L304.5,310.25 L305,310.36 L305.5,310.91 L306,310.52 L306.5,310.94 L307,310.89 L307.5,311.32 L308,311.23 L308.5,311.46 L309,311.13 L309.5,311.54 L310,311.55 L310.5,311.51 L311,311.76 L311.5,311.84 L312,311.36 L312.5,311.5 L313,311.56 L313.5,311.44 L314,311.32 L314.5,311.43 L315,311.31 L315.5,311.57 L316,311.26 L316.5,310.86 L317,310.8 L317.5,310.64 L318,310.24 L318.5,309.71 L319,309.16 L319.5,308.52 L320,308.5 L320.5,307.48 L321,305.99 L321.5,305.22 L322,303.98 L322.5,302 L323,299.73 L323.5,297.73 L324,295.07 L324.5,291.92 L325,288.77 L325.5,284.58 L326,280.95 L326.5,276.02 L327,270.81 L327.5,265.36 L328,259.05" stroke="#151515" stroke-width="2.3" fill="none" stroke-linejoin="round"/>
<path d="M328,259.05 L328.5,252.23 L329,245.3 L329.5,237.97 L330,230.38 L330.5,223.2 L331,215.45 L331.5,207.29 L332,199.54 L332.5,192.44 L333,185.52 L333.5,178.99 L334,172.48 L334.5,167.64 L335,163.22 L335.5,159.6 L336,156.73 L336.5,155.08 L337,155.03 L337.5,154.92 L338,155.61 L338.5,156.81 L339,158.15 L339.5,160.32 L340,162.13 L340.5,164.57 L341,167.84 L341.5,171.1 L342,174.73 L342.5,178.39 L343,182.5 L343.5,186.69 L344,190.7 L344.5,195.16 L345,199.48 L345.5,204.21 L346,209.08 L346.5,213.42 L347,218.52 L347.5,222.79 L348,227.56 L348.5,232.43 L349,236.21 L349.5,240.46 L350,244.9 L350.5,248.73 L351,252.96 L351.5,256.16 L352,260.28 L352.5,263.66" stroke="#151515" stroke-width="1.7" fill="none" stroke-dasharray="4 0.9"/>
<path d="M352.5,263.66 L353,266.8 L353.5,269.57 L354,272.33 L354.5,275.28 L355,277.7 L355.5,280 L356,282.16 L356.5,284.3 L357,286.38 L357.5,288.29 L358,290.02 L358.5,291.05 L359,292.59 L359.5,294.03 L360,295.37 L360.5,296.38 L361,297.35 L361.5,298.28 L362,299.39 L362.5,300.36 L363,301.54 L363.5,302.27 L364,302.96 L364.5,303.72 L365,304.36 L365.5,304.73 L366,305.44 L366.5,305.47 L367,306.42 L367.5,306.87 L368,307.13 L368.5,307.78 L369,308.49 L369.5,308.58 L370,309.1 L370.5,309.25 L371,309.65 L371.5,310.39 L372,310.14 L372.5,310.59 L373,311.26 L373.5,311.41 L374,311.46 L374.5,312.16 L375,312.24 L375.5,312.66 L376,312.81 L376.5,313.14 L377,313.41 L377.5,313.53 L378,313.56 L378.5,313.82 L379,314.53 L379.5,314.49 L380,314.38 L380.5,315.09 L381,314.77 L381.5,314.78 L382,315.38 L382.5,315.26 L383,315.65 L383.5,315.86 L384,315.67 L384.5,316.15 L385,315.81 L385.5,316.32 L386,316.49 L386.5,316.08 L387,316.5 L387.5,316.25 L388,316.7 L388.5,317.2 L389,316.96 L389.5,317.19 L390,317.3 L390.5,316.72 L391,317.65 L391.5,317.44 L392,316.87 L392.5,317.65 L393,317.26 L393.5,317.08 L394,317.91 L394.5,317.55 L395,317.8 L395.5,317.19 L396,317.86 L396.5,317.17 L397,317.38 L397.5,317.54 L398,317.21 L398.5,317.81 L399,317.45 L399.5,317.56 L400,317.98 L400.5,317.72 L401,318.2 L401.5,317.94 L402,318.21 L402.5,317.91 L403,318.28 L403.5,318.24 L404,317.55 L404.5,318.14 L405,317.74 L405.5,318.17 L406,318.1 L406.5,318.25 L407,317.55 L407.5,317.81 L408,318.18 L408.5,318.39 L409,318.17 L409.5,317.5 L410,318.06 L410.5,317.56 L411,318.01 L411.5,318.27 L412,317.58 L412.5,318.4 L413,318.15 L413.5,317.73 L414,317.67 L414.5,317.93 L415,318.32 L415.5,318.07 L416,317.6 L416.5,317.51 L417,317.6 L417.5,318.29 L418,317.68 L418.5,318.05 L419,317.78 L419.5,318.18 L420,317.87 L420.5,317.64 L421,318.37 L421.5,318.03 L422,318.19 L422.5,318.3 L423,318.45 L423.5,317.51 L424,317.84 L424.5,317.65 L425,318 L425.5,318.37 L426,318.3 L426.5,317.53 L427,317.68 L427.5,318.32 L428,318.18 L428.5,317.89 L429,317.97 L429.5,317.66 L430,318.34 L430.5,317.89 L431,318.37 L431.5,318.11 L432,317.58 L432.5,317.83 L433,317.72 L433.5,318.39 L434,318.09 L434.5,317.54 L435,317.67 L435.5,317.86 L436,317.97 L436.5,318.08 L437,317.89 L437.5,317.85 L438,317.51 L438.5,318.08 L439,317.83 L439.5,317.52 L440,317.96 L440.5,318.49 L441,317.55 L441.5,317.65 L442,318.17 L442.5,317.77 L443,317.77 L443.5,318 L444,317.76 L444.5,318.07 L445,318.03 L445.5,318.46 L446,318.49 L446.5,317.53 L447,318.06 L447.5,318.27 L448,318.37 L448.5,318.27 L449,318.13 L449.5,318.13 L450,317.86 L450.5,317.78 L451,318.3 L451.5,318.37 L452,318.44 L452.5,318.18 L453,317.8 L453.5,318.26 L454,318.24 L454.5,318.01 L455,318.14 L455.5,317.85 L456,318.05 L456.5,317.91 L457,317.56 L457.5,317.84 L458,317.82 L458.5,318.49 L459,317.98 L459.5,317.87 L460,317.74 L460.5,317.73" stroke="#151515" stroke-width="2.3" fill="none" stroke-linejoin="round"/>
<path d="M70.5,317.85 L71,317.64 L71.5,317.51 L72,318.37 L72.5,317.95 L73,317.95 L73.5,318.07 L74,317.8 L74.5,317.67 L75,317.57 L75.5,317.8 L76,317.81 L76.5,318.23 L77,318.05 L77.5,318.44 L78,317.84 L78.5,318.42 L79,318.08 L79.5,317.58 L80,317.68 L80.5,318.08 L81,318.49 L81.5,317.86 L82,318.27 L82.5,317.93 L83,318.37 L83.5,317.57 L84,317.98 L84.5,318.4 L85,317.78 L85.5,317.76 L86,317.52 L86.5,317.66 L87,317.77 L87.5,318.2 L88,317.72 L88.5,317.9 L89,317.7 L89.5,318.1 L90,318.36 L90.5,318.15 L91,317.7 L91.5,318.23 L92,318.46 L92.5,318.1 L93,317.58 L93.5,318.31 L94,318.38 L94.5,317.84 L95,317.64 L95.5,317.69 L96,318.04 L96.5,318.38 L97,318.14 L97.5,318.42 L98,317.71 L98.5,317.83 L99,318.25 L99.5,318.15 L100,317.91 L100.5,318.18 L101,317.84 L101.5,317.56 L102,317.91 L102.5,317.55 L103,318.13 L103.5,317.83 L104,317.99 L104.5,318.1 L105,317.76 L105.5,317.96 L106,317.51 L106.5,318.43 L107,318.06 L107.5,318.49 L108,317.56 L108.5,318.11 L109,318.22 L109.5,317.83 L110,317.59 L110.5,317.66 L111,317.64 L111.5,318.27 L112,317.59 L112.5,318.31 L113,317.92 L113.5,318.04 L114,318.09 L114.5,318.05 L115,318.16 L115.5,318.1 L116,317.83 L116.5,318.24 L117,317.76 L117.5,318.21 L118,318.26 L118.5,318.28 L119,317.81 L119.5,318.27 L120,318.48 L120.5,317.95 L121,317.78 L121.5,318.02 L122,318.44 L122.5,317.63 L123,317.51 L123.5,317.98 L124,318.16 L124.5,318.27 L125,317.86 L125.5,318.49 L126,317.73 L126.5,318.26 L127,317.59 L127.5,317.53 L128,317.63 L128.5,317.56 L129,318 L129.5,318.06 L130,317.68 L130.5,318.44 L131,317.87 L131.5,317.65 L132,317.68 L132.5,318.24 L133,318.42 L133.5,317.66 L134,317.53 L134.5,318.28 L135,317.74 L135.5,318.48 L136,318 L136.5,318.14 L137,317.84 L137.5,318.3 L138,317.96 L138.5,317.82 L139,318.4 L139.5,317.61 L140,318.23 L140.5,317.57 L141,318.15 L141.5,317.9 L142,318.36 L142.5,317.56 L143,318.06 L143.5,317.91 L144,318.42 L144.5,318.44 L145,318.13 L145.5,317.72 L146,317.75 L146.5,317.76 L147,317.93 L147.5,317.73 L148,317.7 L148.5,318.26 L149,318.14 L149.5,317.8 L150,318.49 L150.5,317.72 L151,318.07 L151.5,317.66 L152,318.36 L152.5,318.37 L153,317.77 L153.5,318.25 L154,318.32 L154.5,317.78 L155,317.83 L155.5,317.99 L156,318.39 L156.5,317.66 L157,318.18 L157.5,318.1 L158,317.95 L158.5,318.08 L159,318.38 L159.5,317.71 L160,318.38 L160.5,317.86 L161,318.28 L161.5,318.36 L162,317.68 L162.5,318.36 L163,318.49 L163.5,317.8 L164,317.52 L164.5,317.61 L165,318.47 L165.5,317.51 L166,318.41 L166.5,317.65 L167,318.24 L167.5,317.6 L168,317.67 L168.5,318.18 L169,317.59 L169.5,317.84 L170,318.42 L170.5,318.18 L171,318.3 L171.5,318.33 L172,317.3 L172.5,317.41 L173,317.86 L173.5,317.64 L174,316.85 L174.5,317.17 L175,316.74 L175.5,316.77 L176,316.26 L176.5,315.99 L177,316.75 L177.5,315.87 L178,316.21 L178.5,315.22 L179,315.35 L179.5,314.75 L180,314.81 L180.5,314.37 L181,314.46 L181.5,313.81 L182,313.94 L182.5,313.49 L183,312.93 L183.5,312.8 L184,312.6 L184.5,312.6 L185,311.89 L185.5,311.49 L186,311.68 L186.5,311.28 L187,310.82 L187.5,310.13 L188,309.68 L188.5,309.35 L189,308.82 L189.5,308.39 L190,308.3 L190.5,307.81 L191,307.48 L191.5,306.91 L192,306.23 L192.5,306.26 L193,305.79 L193.5,305.27 L194,304.83 L194.5,304.48 L195,304.24 L195.5,303.72 L196,303.17 L196.5,302.52 L197,302.03 L197.5,301.68 L198,301.65 L198.5,300.83 L199,300.42 L199.5,300.05 L200,299.48 L200.5,299.71 L201,298.65 L201.5,298.72 L202,298.6 L202.5,297.78 L203,297.68 L203.5,297.17 L204,296.73 L204.5,296.36 L205,295.97 L205.5,296.14 L206,295.77 L206.5,295.53 L207,294.6 L207.5,294.73 L208,294.16 L208.5,294.07 L209,293.7 L209.5,293.23 L210,293.39 L210.5,292.42 L211,292.65 L211.5,292.44 L212,291.93 L212.5,291.71 L213,291.73 L213.5,290.94 L214,290.97 L214.5,290.8 L215,290.31 L215.5,290.31 L216,289.87 L216.5,289.74 L217,289.6 L217.5,289.45 L218,289.02 L218.5,289.07 L219,288.86 L219.5,288.5 L220,288.65 L220.5,288.3 L221,288.65 L221.5,288.26 L222,288.35 L222.5,288.15 L223,288.06 L223.5,287.84 L224,287.75 L224.5,288.27 L225,287.98 L225.5,287.97 L226,287.97 L226.5,288.17 L227,287.79 L227.5,287.76 L228,288.24 L228.5,288.02 L229,288.18 L229.5,288.36 L230,288.45 L230.5,288.48 L231,287.96 L231.5,288.26 L232,288.64 L232.5,288.71 L233,288.29 L233.5,288.4 L234,288.55 L234.5,288.54 L235,288.81 L235.5,289.22 L236,289.12 L236.5,289.18 L237,289.04 L237.5,289.37 L238,289.91 L238.5,289.83 L239,289.78 L239.5,289.94 L240,290.3 L240.5,290.41 L241,290.13 L241.5,290.65 L242,290.59 L242.5,290.85 L243,290.82 L243.5,291.08 L244,291.22 L244.5,291.43 L245,291.35 L245.5,291.66 L246,292.1 L246.5,291.93 L247,292.21 L247.5,292.78 L248,292.67 L248.5,292.9 L249,293.05 L249.5,293.67 L250,293.35 L250.5,293.94 L251,294.31 L251.5,294.06 L252,294.43 L252.5,294.91 L253,295 L253.5,295.05 L254,295.04 L254.5,295.54 L255,295.7 L255.5,296.17 L256,296.09 L256.5,296.39 L257,296.78 L257.5,297.12 L258,297.02 L258.5,297.26 L259,297.61 L259.5,298.08 L260,297.78 L260.5,298.54 L261,298.57 L261.5,298.55 L262,298.97 L262.5,298.94 L263,298.97 L263.5,299.65 L264,299.59 L264.5,299.9 L265,300.07 L265.5,300.55 L266,300.64 L266.5,300.32 L267,300.9 L267.5,300.99 L268,301.17 L268.5,301.61 L269,301.49 L269.5,301.7 L270,302.17 L270.5,302.02 L271,302.22 L271.5,302.4 L272,302.79 L272.5,302.84 L273,303.05 L273.5,302.97 L274,302.88 L274.5,303.48 L275,303.55 L275.5,303.85 L276,304.01 L276.5,303.7 L277,303.92 L277.5,303.97 L278,304.64 L278.5,304.28 L279,304.42 L279.5,305.03 L280,305.04 L280.5,304.83 L281,305.41 L281.5,305.57 L282,305.55 L282.5,305.39 L283,305.97 L283.5,305.92 L284,306.17 L284.5,306.6 L285,306.61 L285.5,306.78 L286,306.41 L286.5,306.68 L287,306.94 L287.5,306.72 L288,307.54 L288.5,307.17 L289,307.3 L289.5,307.47 L290,307.56 L290.5,308.11 L291,308.04 L291.5,308.14 L292,308.21 L292.5,308.09 L293,308.4 L293.5,308.93 L294,309.03 L294.5,309.2 L295,308.93 L295.5,309.03 L296,309.06 L296.5,309.54 L297,309.57 L297.5,309.77 L298,309.93 L298.5,310.14 L299,310.12 L299.5,310.56 L300,310.28 L300.5,310.92 L301,310.8 L301.5,310.57 L302,310.89 L302.5,311.17 L303,311.2 L303.5,311.43 L304,311.38 L304.5,311.46 L305,311.94 L305.5,311.7 L306,312.1 L306.5,312.26 L307,312.21 L307.5,312.2 L308,312.62 L308.5,312.36 L309,312.74 L309.5,312.23 L310,312.56 L310.5,312.75 L311,312.39 L311.5,313 L312,312.47 L312.5,312.86 L313,312.58 L313.5,313.1 L314,312.83 L314.5,312.97 L315,312.71 L315.5,312.77 L316,312.69 L316.5,312.32 L317,312.13 L317.5,312.4 L318,311.72 L318.5,312.01 L319,311.21 L319.5,310.77 L320,310.33 L320.5,310.28 L321,309.75 L321.5,308.61 L322,307.86 L322.5,306.5 L323,305.68 L323.5,304.04 L324,301.94 L324.5,299.87 L325,298.04 L325.5,294.99 L326,292.62 L326.5,288.96 L327,285.29 L327.5,281.55 L328,277.01 L328.5,272.49 L329,267.18 L329.5,262.39 L330,256.4" stroke="#d02a8c" stroke-width="2.3" fill="none" stroke-linejoin="round"/>
<path d="M330,256.4 L330.5,250.99 L331,244.58 L331.5,239.04 L332,233.18 L332.5,226.88 L333,220.92 L333.5,215.73 L334,210.85 L334.5,205.96 L335,202.14 L335.5,198.4 L336,195.93 L336.5,194.13 L337,192.73 L337.5,192.53 L338,192.33 L338.5,193.34 L339,193.67 L339.5,195.37 L340,196.85 L340.5,198.53 L341,200.23 L341.5,202.3 L342,204.82 L342.5,207.8 L343,210.51 L343.5,213.87 L344,216.49 L344.5,220.1 L345,223.8 L345.5,227.12 L346,230.65 L346.5,233.93 L347,237.58 L347.5,241.27 L348,245.28 L348.5,248.78 L349,251.81 L349.5,255.68 L350,258.36 L350.5,261.95 L351,265.3" stroke="#d02a8c" stroke-width="1.7" fill="none" stroke-dasharray="3.5 1"/>
<path d="M351,265.3 L351.5,267.83 L352,271.1 L352.5,273.62 L353,275.79 L353.5,278.44 L354,280.85 L354.5,282.91 L355,285.32 L355.5,286.87 L356,289.11 L356.5,290.47 L357,291.9 L357.5,293.73 L358,294.78 L358.5,296.39 L359,297.74 L359.5,298.72 L360,299.66 L360.5,300.31 L361,301.54 L361.5,302.08 L362,303.24 L362.5,303.6 L363,304.58 L363.5,305.05 L364,305.66 L364.5,306.42 L365,306.59 L365.5,307.08 L366,308.09 L366.5,308.11 L367,308.88 L367.5,309.3 L368,309.41 L368.5,309.54 L369,309.85 L369.5,310.74 L370,310.52 L370.5,311.1 L371,311.42 L371.5,311.42 L372,311.94 L372.5,311.99 L373,312.51 L373.5,312.74 L374,312.88 L374.5,312.99 L375,313.36 L375.5,313.44 L376,313.59 L376.5,313.87 L377,314.51 L377.5,314.44 L378,314.89 L378.5,314.45 L379,315.27 L379.5,315.11 L380,315.56 L380.5,315.49 L381,315.76 L381.5,315.43 L382,316.09 L382.5,315.62 L383,315.85 L383.5,315.74 L384,316.21 L384.5,316.44 L385,316.32 L385.5,317 L386,316.28 L386.5,316.85 L387,316.58 L387.5,317.01 L388,317.26 L388.5,317.25 L389,316.67 L389.5,316.9 L390,317.31 L390.5,317.75 L391,316.85 L391.5,317.47 L392,317.59 L392.5,317.75 L393,317.32 L393.5,317.82 L394,317.51 L394.5,318 L395,317.11 L395.5,318.07 L396,317.57 L396.5,317.59 L397,317.29 L397.5,317.47 L398,317.98 L398.5,317.94 L399,317.43 L399.5,317.64 L400,317.45 L400.5,317.53 L401,317.56 L401.5,317.68 L402,318.34 L402.5,318.37 L403,318.18 L403.5,317.87 L404,317.9 L404.5,318.19 L405,318.33 L405.5,318.18 L406,318.07 L406.5,317.63 L407,318.07 L407.5,318.29 L408,318.24 L408.5,317.55 L409,318.18 L409.5,317.81 L410,317.63 L410.5,318.43 L411,318.14 L411.5,318.22 L412,317.61 L412.5,318.31 L413,318.42 L413.5,318.39 L414,318.23 L414.5,318.32 L415,318.29 L415.5,318.08 L416,317.92 L416.5,318.32 L417,318.28 L417.5,318.36 L418,317.79 L418.5,318.45 L419,318.03 L419.5,318.44 L420,317.61 L420.5,318.46 L421,318.28 L421.5,317.75 L422,318.34 L422.5,317.73 L423,317.7 L423.5,317.96 L424,317.73 L424.5,317.99 L425,318.41 L425.5,318.18 L426,318.21 L426.5,317.89 L427,318.28 L427.5,318.29 L428,318.18 L428.5,318.44 L429,318.33 L429.5,317.91 L430,317.59 L430.5,318.15 L431,318.34 L431.5,317.84 L432,318.09 L432.5,318.34 L433,318.29 L433.5,317.5 L434,317.99 L434.5,317.52 L435,317.61 L435.5,318.31 L436,317.92 L436.5,318.1 L437,317.96 L437.5,317.84 L438,317.71 L438.5,317.85 L439,318.34 L439.5,318.12 L440,317.79 L440.5,317.59 L441,317.77 L441.5,318.2 L442,317.94 L442.5,318.16 L443,318.31 L443.5,317.62 L444,318.18 L444.5,317.54 L445,318.32 L445.5,317.68 L446,317.77 L446.5,318.46 L447,317.86 L447.5,317.72 L448,318.39 L448.5,318.11 L449,318.39 L449.5,317.89 L450,318 L450.5,318.46 L451,318.01 L451.5,318.49 L452,317.69 L452.5,318.33 L453,317.66 L453.5,318.03 L454,317.5 L454.5,317.68 L455,318.45 L455.5,317.95 L456,318.31 L456.5,317.75 L457,317.85 L457.5,317.6 L458,318.05 L458.5,318.36 L459,318.01 L459.5,317.88 L460,318.43 L460.5,318.39" stroke="#d02a8c" stroke-width="2.3" fill="none" stroke-linejoin="round"/>
<path d="M70.5,318.17 L71,317.58 L71.5,318.12 L72,317.94 L72.5,318.46 L73,317.86 L73.5,318.16 L74,318.13 L74.5,317.88 L75,318.02 L75.5,318.18 L76,318.41 L76.5,318 L77,317.86 L77.5,318.48 L78,317.56 L78.5,318.33 L79,318.18 L79.5,318.06 L80,317.95 L80.5,318.25 L81,318.39 L81.5,318.23 L82,318.25 L82.5,317.54 L83,317.83 L83.5,317.64 L84,318.45 L84.5,318.39 L85,317.64 L85.5,318.09 L86,318.08 L86.5,317.55 L87,317.89 L87.5,318.25 L88,318.14 L88.5,317.78 L89,318.26 L89.5,317.79 L90,318.04 L90.5,317.92 L91,318.48 L91.5,318.15 L92,318.3 L92.5,318.18 L93,317.88 L93.5,318.46 L94,318.21 L94.5,318.19 L95,317.78 L95.5,317.66 L96,318.08 L96.5,318.33 L97,318.29 L97.5,317.85 L98,317.64 L98.5,318.02 L99,318.38 L99.5,317.66 L100,318.24 L100.5,317.67 L101,317.81 L101.5,317.55 L102,317.8 L102.5,317.88 L103,318.47 L103.5,318.46 L104,317.69 L104.5,317.81 L105,318.44 L105.5,317.7 L106,317.82 L106.5,317.94 L107,317.61 L107.5,317.76 L108,317.89 L108.5,317.89 L109,318.46 L109.5,317.77 L110,317.7 L110.5,318.41 L111,317.95 L111.5,318.34 L112,318.14 L112.5,318.28 L113,317.81 L113.5,317.65 L114,318.26 L114.5,317.97 L115,318.06 L115.5,318.17 L116,318.25 L116.5,317.78 L117,317.86 L117.5,318.42 L118,318.03 L118.5,317.79 L119,318.13 L119.5,317.76 L120,318.27 L120.5,317.54 L121,318.33 L121.5,318.07 L122,317.85 L122.5,318.44 L123,317.77 L123.5,317.74 L124,317.57 L124.5,318.05 L125,318.25 L125.5,318.18 L126,317.91 L126.5,318.31 L127,317.61 L127.5,317.81 L128,318.14 L128.5,318.47 L129,318.13 L129.5,318.19 L130,318.27 L130.5,317.89 L131,318.44 L131.5,318.24 L132,317.84 L132.5,317.89 L133,318.31 L133.5,317.85 L134,317.69 L134.5,318.37 L135,318.03 L135.5,318.02 L136,318.17 L136.5,318.4 L137,317.63 L137.5,317.84 L138,317.57 L138.5,317.91 L139,318 L139.5,318.35 L140,318.17 L140.5,318.08 L141,317.9 L141.5,318.07 L142,317.77 L142.5,318.34 L143,318.29 L143.5,318.34 L144,317.65 L144.5,318.17 L145,318.25 L145.5,318 L146,318.4 L146.5,318.4 L147,318.24 L147.5,318.32 L148,318.15 L148.5,318.38 L149,317.63 L149.5,318.2 L150,318.2 L150.5,318.11 L151,317.78 L151.5,317.57 L152,318.1 L152.5,318.32 L153,317.77 L153.5,317.71 L154,317.72 L154.5,317.59 L155,318.18 L155.5,318.47 L156,318.3 L156.5,317.86 L157,318.2 L157.5,317.57 L158,318.34 L158.5,317.83 L159,317.5 L159.5,318.13 L160,317.64 L160.5,317.78 L161,317.56 L161.5,317.95 L162,318.05 L162.5,318.31 L163,317.54 L163.5,318.27 L164,317.42 L164.5,317.35 L165,317.51 L165.5,316.91 L166,316.54 L166.5,316.36 L167,315.54 L167.5,315.6 L168,314.53 L168.5,314.36 L169,313.67 L169.5,312.77 L170,311.67 L170.5,311.36 L171,309.88 L171.5,309.15 L172,307.94 L172.5,306.48 L173,305.62 L173.5,304.39 L174,303 L174.5,301.57 L175,300.39 L175.5,299.22 L176,297.81 L176.5,297.13 L177,296.07 L177.5,294.78 L178,293.73 L178.5,292.12 L179,291.42 L179.5,289.64 L180,288.79 L180.5,287.44 L181,286.59 L181.5,285.7 L182,284.71 L182.5,283.57 L183,282.58 L183.5,281.62 L184,280.95 L184.5,280.09 L185,279.3 L185.5,278.98 L186,278.17 L186.5,277.51 L187,276.77 L187.5,276.6 L188,275.76 L188.5,275.37 L189,275.19 L189.5,274.94 L190,274.83 L190.5,274.42 L191,274.36 L191.5,274.18 L192,273.91 L192.5,273.82 L193,273.3 L193.5,273.37 L194,273.23 L194.5,273.84 L195,273.77 L195.5,273.76 L196,273.56 L196.5,273.69 L197,273.63 L197.5,274.02 L198,274.34 L198.5,273.93 L199,273.83 L199.5,274.01 L200,274.23 L200.5,274.71 L201,274.76 L201.5,274.63 L202,274.5 L202.5,274.64 L203,274.8 L203.5,275.38 L204,275.31 L204.5,275.83 L205,275.93 L205.5,276 L206,275.94 L206.5,276.35 L207,276.04 L207.5,276.19 L208,276.69 L208.5,276.83 L209,276.8 L209.5,277.01 L210,277.03 L210.5,277.84 L211,277.89 L211.5,278.25 L212,278.47 L212.5,278.29 L213,278.7 L213.5,278.66 L214,279.16 L214.5,279.39 L215,279.11 L215.5,279.24 L216,279.59 L216.5,280.07 L217,280.15 L217.5,280.11 L218,280.91 L218.5,281.1 L219,281.1 L219.5,281.04 L220,281.86 L220.5,281.84 L221,281.75 L221.5,282.17 L222,282.61 L222.5,283.03 L223,282.99 L223.5,283.34 L224,283.28 L224.5,283.56 L225,284.28 L225.5,284.17 L226,284.24 L226.5,284.84 L227,284.79 L227.5,285.11 L228,285.56 L228.5,285.93 L229,286.24 L229.5,286.56 L230,286.66 L230.5,286.67 L231,287.41 L231.5,287.22 L232,287.78 L232.5,288.01 L233,288.47 L233.5,288.77 L234,288.71 L234.5,289.26 L235,289.56 L235.5,289.66 L236,289.69 L236.5,290.47 L237,290.5 L237.5,290.37 L238,290.73 L238.5,291.49 L239,291.18 L239.5,291.51 L240,292 L240.5,292.23 L241,292.28 L241.5,292.53 L242,292.2 L242.5,292.4 L243,293.16 L243.5,293.17 L244,292.77 L244.5,292.9 L245,293.15 L245.5,293.75 L246,293.36 L246.5,293.79 L247,294.08 L247.5,293.99 L248,294.3 L248.5,293.96 L249,294 L249.5,294.04 L250,294.69 L250.5,294.37 L251,295.13 L251.5,295.1 L252,294.9 L252.5,295.52 L253,295.26 L253.5,295.72 L254,295.65 L254.5,296.35 L255,296.66 L255.5,296.92 L256,296.53 L256.5,297.38 L257,297.44 L257.5,297.89 L258,297.94 L258.5,298.3 L259,298.56 L259.5,298.98 L260,298.76 L260.5,299.03 L261,299.65 L261.5,299.76 L262,300.12 L262.5,300.13 L263,300.92 L263.5,300.69 L264,301.53 L264.5,301.78 L265,301.79 L265.5,301.82 L266,302.43 L266.5,302.37 L267,302.75 L267.5,302.76 L268,303.58 L268.5,303.48 L269,303.54 L269.5,303.54 L270,304.16 L270.5,304.4 L271,304.54 L271.5,304.16 L272,304.47 L272.5,304.55 L273,305 L273.5,304.69 L274,305.13 L274.5,305.5 L275,305.46 L275.5,305.03 L276,305.18 L276.5,305.31 L277,305.81 L277.5,305.83 L278,305.87 L278.5,305.91 L279,305.96 L279.5,306.19 L280,306.29 L280.5,306.56 L281,306.5 L281.5,306.62 L282,306.77 L282.5,306.79 L283,306.78 L283.5,306.36 L284,306.88 L284.5,307.06 L285,306.83 L285.5,307.21 L286,306.78 L286.5,307.37 L287,307.08 L287.5,307.32 L288,307.06 L288.5,307.16 L289,307.25 L289.5,307.29 L290,307.18 L290.5,307.48 L291,307.92 L291.5,307.74 L292,308 L292.5,307.93 L293,308.04 L293.5,308.21 L294,308.1 L294.5,307.83 L295,307.87 L295.5,308.05 L296,307.84 L296.5,308.05 L297,308.58 L297.5,308.67 L298,308.32 L298.5,308.7 L299,308.78 L299.5,308.93 L300,308.94 L300.5,308.83 L301,308.61 L301.5,309.2 L302,308.92 L302.5,309.22 L303,309.13 L303.5,309.34 L304,309.73 L304.5,309.26 L305,309.63 L305.5,309.84 L306,309.9 L306.5,310.32 L307,310.1 L307.5,310.62 L308,310.62 L308.5,310.99 L309,310.54 L309.5,310.8 L310,311.02 L310.5,311.62 L311,311.16 L311.5,311.49 L312,311.96 L312.5,312.3 L313,311.86 L313.5,312.16 L314,312.44 L314.5,312.53 L315,312.64 L315.5,312.69 L316,312.35 L316.5,312.34 L317,312.13 L317.5,312.51 L318,312.04 L318.5,311.89 L319,312.16 L319.5,311.66 L320,311.29 L320.5,310.93 L321,310.4 L321.5,309.88 L322,308.9 L322.5,307.9 L323,306.91 L323.5,305.72 L324,304.62 L324.5,302.92 L325,301.12 L325.5,299.36 L326,297.42 L326.5,294.67 L327,291.54 L327.5,288.78 L328,284.97 L328.5,281.24 L329,277.46 L329.5,273.38 L330,269.22" stroke="#6cc4e4" stroke-width="2.0" fill="none" stroke-linejoin="round"/>
<path d="M330,269.22 L330.5,264.53 L331,260.1 L331.5,254.97 L332,250.88 L332.5,245.86 L333,241.74 L333.5,236.94 L334,233.54 L334.5,229.53 L335,226.8 L335.5,224.09 L336,221.87 L336.5,220.05 L337,218.94 L337.5,218.78 L338,219.45 L338.5,219.33 L339,220.34 L339.5,221.19 L340,222.37 L340.5,223.39 L341,224.93 L341.5,226.66 L342,229.23 L342.5,230.93 L343,233.39 L343.5,235.74 L344,238.02 L344.5,240.53 L345,243.19 L345.5,246.54 L346,248.84 L346.5,252.25 L347,254.67 L347.5,257.75 L348,260.15 L348.5,263.37 L349,265.72 L349.5,268.46 L350,271.16" stroke="#6cc4e4" stroke-width="1.7" fill="none" stroke-dasharray="3 1"/>
<path d="M350,271.16 L350.5,273.39 L351,275.91 L351.5,278.63 L352,280.51 L352.5,282.72 L353,285.02 L353.5,286.58 L354,288.39 L354.5,290.13 L355,291.87 L355.5,293.39 L356,295.02 L356.5,296.24 L357,297.77 L357.5,298.36 L358,299.88 L358.5,301.01 L359,301.53 L359.5,302.26 L360,303.37 L360.5,303.9 L361,304.84 L361.5,305.67 L362,305.85 L362.5,306.44 L363,307.23 L363.5,307.51 L364,308.02 L364.5,308.61 L365,308.8 L365.5,309.15 L366,309.73 L366.5,310.16 L367,310.82 L367.5,310.87 L368,310.83 L368.5,311.23 L369,311.88 L369.5,312.02 L370,312.49 L370.5,312.8 L371,312.96 L371.5,312.67 L372,313.47 L372.5,313.4 L373,313.4 L373.5,313.55 L374,314.23 L374.5,313.96 L375,314.05 L375.5,314.35 L376,314.98 L376.5,314.82 L377,315.23 L377.5,314.73 L378,315.25 L378.5,315.26 L379,315.28 L379.5,315.87 L380,315.69 L380.5,315.57 L381,316.55 L381.5,316.16 L382,315.97 L382.5,315.9 L383,316.64 L383.5,316.6 L384,316.2 L384.5,316.73 L385,317.09 L385.5,316.95 L386,316.71 L386.5,317.04 L387,317.2 L387.5,317.3 L388,316.85 L388.5,317.55 L389,317.74 L389.5,317.58 L390,317.74 L390.5,317.29 L391,317.86 L391.5,317.18 L392,317.25 L392.5,317.66 L393,317.99 L393.5,317.2 L394,317.36 L394.5,317.2 L395,317.63 L395.5,317.35 L396,317.42 L396.5,318 L397,317.85 L397.5,318.22 L398,317.7 L398.5,317.99 L399,317.34 L399.5,318.29 L400,317.59 L400.5,317.84 L401,317.89 L401.5,318.33 L402,317.89 L402.5,318.39 L403,318.03 L403.5,317.63 L404,318.26 L404.5,317.63 L405,318.43 L405.5,317.9 L406,317.67 L406.5,318.41 L407,317.78 L407.5,317.86 L408,317.8 L408.5,318.13 L409,317.49 L409.5,317.84 L410,317.63 L410.5,318.3 L411,317.48 L411.5,318.09 L412,317.74 L412.5,317.94 L413,318.05 L413.5,318.2 L414,317.62 L414.5,317.73 L415,317.61 L415.5,318.45 L416,317.64 L416.5,317.63 L417,318.02 L417.5,318.07 L418,318.38 L418.5,317.55 L419,317.73 L419.5,317.66 L420,318.08 L420.5,317.95 L421,317.91 L421.5,318.39 L422,318.16 L422.5,318.36 L423,318.45 L423.5,317.77 L424,318.44 L424.5,317.91 L425,317.55 L425.5,318.41 L426,317.6 L426.5,317.52 L427,317.79 L427.5,317.79 L428,318.47 L428.5,318.37 L429,317.92 L429.5,318.03 L430,318.35 L430.5,318.31 L431,318.15 L431.5,318.01 L432,317.62 L432.5,317.74 L433,318.16 L433.5,318.09 L434,318.3 L434.5,318.4 L435,318.46 L435.5,317.69 L436,317.58 L436.5,318.4 L437,318.07 L437.5,317.68 L438,318.19 L438.5,317.76 L439,317.74 L439.5,317.87 L440,318.02 L440.5,318.18 L441,317.57 L441.5,318.24 L442,318.12 L442.5,317.97 L443,318.17 L443.5,318.3 L444,317.51 L444.5,317.98 L445,318.18 L445.5,318.21 L446,318.15 L446.5,317.68 L447,318.46 L447.5,318.29 L448,317.73 L448.5,317.93 L449,318.46 L449.5,317.71 L450,317.91 L450.5,318.46 L451,318.4 L451.5,317.73 L452,318.24 L452.5,317.86 L453,318.16 L453.5,318.27 L454,317.63 L454.5,317.72 L455,317.71 L455.5,317.77 L456,317.54 L456.5,317.64 L457,317.91 L457.5,317.92 L458,317.58 L458.5,318.08 L459,318.44 L459.5,318.08 L460,317.86 L460.5,318.2" stroke="#6cc4e4" stroke-width="2.0" fill="none" stroke-linejoin="round"/>
<path d="M70.5,317.94 L71.5,317.68 L72.5,317.98 L73.5,317.52 L74.5,318.18 L75.5,317.66 L76.5,317.87 L77.5,318.46 L78.5,318.27 L79.5,318.34 L80.5,318.14 L81.5,318.13 L82.5,318.2 L83.5,318.47 L84.5,317.7 L85.5,318.27 L86.5,317.8 L87.5,317.76 L88.5,318.32 L89.5,318.1 L90.5,318.35 L91.5,318.38 L92.5,318.09 L93.5,317.7 L94.5,317.52 L95.5,318.03 L96.5,318.23 L97.5,317.77 L98.5,317.57 L99.5,317.5 L100.5,317.67 L101.5,318.2 L102.5,317.5 L103.5,317.73 L104.5,317.77 L105.5,318.21 L106.5,318.49 L107.5,317.52 L108.5,317.61 L109.5,318.43 L110.5,318.47 L111.5,317.65 L112.5,317.84 L113.5,318.02 L114.5,317.82 L115.5,317.92 L116.5,317.98 L117.5,317.76 L118.5,317.55 L119.5,317.58 L120.5,317.66 L121.5,317.59 L122.5,318.12 L123.5,318.2 L124.5,317.76 L125.5,318.29 L126.5,318.23 L127.5,317.84 L128.5,317.99 L129.5,317.69 L130.5,318.43 L131.5,318.06 L132.5,317.55 L133.5,317.65 L134.5,318.19 L135.5,317.89 L136.5,318.22 L137.5,317.73 L138.5,318.3 L139.5,318.3 L140.5,317.59 L141.5,318.09 L142.5,317.69 L143.5,318.21 L144.5,318.3 L145.5,318.29 L146.5,317.73 L147.5,317.59 L148.5,318.16 L149.5,318.07 L150.5,317.64 L151.5,317.69 L152.5,318.08 L153.5,317.61 L154.5,318.13 L155.5,317.51 L156.5,316.32 L157.5,314.46 L158.5,311.85 L159.5,308.83 L160.5,304.92 L161.5,301.89 L162.5,297.99 L163.5,293.91 L164.5,289.57 L165.5,284.82 L166.5,280.03 L167.5,275.8 L168.5,271.44 L169.5,268.36 L170.5,265.77 L171.5,262.89 L172.5,260.49 L173.5,258.49 L174.5,257.12 L175.5,255.73 L176.5,254.56 L177.5,254.04 L178.5,253.86 L179.5,253.99 L180.5,254.85 L181.5,256.24 L182.5,256.99 L183.5,258.55 L184.5,259.25 L185.5,260.48 L186.5,262.22 L187.5,263.45 L188.5,265.44 L189.5,266.7 L190.5,267.5 L191.5,268.32 L192.5,269.23 L193.5,270.42 L194.5,271.32 L195.5,272.08 L196.5,273.17 L197.5,273.87 L198.5,274.87 L199.5,275.24 L200.5,276.06 L201.5,277.15 L202.5,278.1 L203.5,278.83 L204.5,280.01 L205.5,280.58 L206.5,281.53 L207.5,282.5 L208.5,283.51 L209.5,284.37 L210.5,284.88 L211.5,285.69 L212.5,286.74 L213.5,287.41 L214.5,287.8 L215.5,288 L216.5,288.78 L217.5,289.42 L218.5,289.67 L219.5,289.99 L220.5,291.12 L221.5,291.52 L222.5,291.41 L223.5,292.07 L224.5,292.6 L225.5,292.77 L226.5,293 L227.5,293.86 L228.5,294.25 L229.5,294.38 L230.5,294.5 L231.5,295.06 L232.5,295.2 L233.5,296.15 L234.5,295.85 L235.5,296.35 L236.5,297.02 L237.5,296.91 L238.5,297.23 L239.5,297.53 L240.5,297.93 L241.5,298.52 L242.5,299.06 L243.5,298.92 L244.5,299.24 L245.5,299.98 L246.5,300.06 L247.5,300.31 L248.5,300.47 L249.5,300.86 L250.5,301.67 L251.5,301.37 L252.5,301.77 L253.5,302.4 L254.5,302.79 L255.5,303.08 L256.5,303.06 L257.5,303.68 L258.5,303.71 L259.5,303.75 L260.5,304.14 L261.5,304.58 L262.5,304.85 L263.5,304.68 L264.5,304.97 L265.5,305.75 L266.5,305.4 L267.5,306.13 L268.5,306.03 L269.5,306.19 L270.5,306.42 L271.5,306.79 L272.5,307.36 L273.5,306.97 L274.5,307.66 L275.5,307.47 L276.5,307.55 L277.5,308.12 L278.5,308.01 L279.5,308.06 L280.5,308.38 L281.5,308.81 L282.5,308.99 L283.5,308.93 L284.5,308.68 L285.5,309.35 L286.5,309.37 L287.5,309.72 L288.5,309.89 L289.5,309.58 L290.5,310.08 L291.5,310.19 L292.5,309.94 L293.5,310.14 L294.5,310.28 L295.5,310.4 L296.5,310.56 L297.5,310.51 L298.5,310.74 L299.5,311.36 L300.5,311.16 L301.5,311.47 L302.5,311.8 L303.5,311.88 L304.5,311.7 L305.5,312.36 L306.5,312.47 L307.5,312.79 L308.5,312.79 L309.5,312.99 L310.5,313.2 L311.5,312.96 L312.5,313.36 L313.5,313.27 L314.5,313.65 L315.5,313.16 L316.5,313.37 L317.5,313.07 L318.5,313.11 L319.5,312.32 L320.5,312 L321.5,311.05 L322.5,309.72 L323.5,307.38 L324.5,305.51 L325.5,302.27 L326.5,298.38 L327.5,293.76 L328.5,288.03 L329.5,282.72 L330.5,276.26 L331.5,269.92 L332.5,263.87 L333.5,258.92 L334.5,254.74 L335.5,252.02 L336.5,250.42 L337.5,250.76 L338.5,251.63 L339.5,253.09 L340.5,255.4 L341.5,257.86 L342.5,261.49 L343.5,264.52 L344.5,268.07 L345.5,271.87 L346.5,276.18 L347.5,279.59 L348.5,283.46 L349.5,286.91 L350.5,290.47 L351.5,293.6 L352.5,295.89 L353.5,298.59 L354.5,300.97 L355.5,302.61 L356.5,304.6 L357.5,305.96 L358.5,306.94 L359.5,308.44 L360.5,309.18 L361.5,309.69 L362.5,310.76 L363.5,311.57 L364.5,311.92 L365.5,312.41 L366.5,312.82 L367.5,313.57 L368.5,313.81 L369.5,313.84 L370.5,314.28 L371.5,314.59 L372.5,315.3 L373.5,315.44 L374.5,315.13 L375.5,316.15 L376.5,315.49 L377.5,316.25 L378.5,316.28 L379.5,316.75 L380.5,316.62 L381.5,316.44 L382.5,317.01 L383.5,317.44 L384.5,317.53 L385.5,317.19 L386.5,317.13 L387.5,317.73 L388.5,317.85 L389.5,317.32 L390.5,318.03 L391.5,318.19 L392.5,317.67 L393.5,317.65 L394.5,318.01 L395.5,318.26 L396.5,317.55 L397.5,317.67 L398.5,317.72 L399.5,318.14 L400.5,317.61 L401.5,317.98 L402.5,317.94 L403.5,318.12 L404.5,317.6 L405.5,318.42 L406.5,318.47 L407.5,318.04 L408.5,318.27 L409.5,317.67 L410.5,318.4 L411.5,318.04 L412.5,318.25 L413.5,318.36 L414.5,317.85 L415.5,318.42 L416.5,317.7 L417.5,317.52 L418.5,318 L419.5,318.4 L420.5,318.4 L421.5,318.45 L422.5,318.01 L423.5,318.43 L424.5,318.06 L425.5,317.64 L426.5,318.13 L427.5,318.3 L428.5,317.92 L429.5,318.1 L430.5,317.76 L431.5,317.78 L432.5,317.92 L433.5,318.01 L434.5,317.97 L435.5,317.59 L436.5,317.51 L437.5,317.84 L438.5,318.22 L439.5,318.25 L440.5,317.74 L441.5,317.76 L442.5,318.02 L443.5,317.68 L444.5,318.1 L445.5,318.4 L446.5,317.7 L447.5,318.09 L448.5,318.22 L449.5,318.25 L450.5,318.21 L451.5,318.21 L452.5,317.77 L453.5,318.34 L454.5,318.43 L455.5,317.55 L456.5,318.44 L457.5,317.94 L458.5,317.59 L459.5,317.57 L460.5,318.3" stroke="#f2e050" stroke-width="1.9" fill="none" stroke-linejoin="round"/>
<path d="M70.5,318.18 L71.5,317.64 L72.5,317.96 L73.5,318.14 L74.5,318.5 L75.5,317.84 L76.5,318.27 L77.5,317.75 L78.5,317.7 L79.5,317.66 L80.5,317.91 L81.5,318.12 L82.5,317.8 L83.5,317.66 L84.5,317.72 L85.5,317.58 L86.5,317.69 L87.5,317.82 L88.5,318 L89.5,317.68 L90.5,317.98 L91.5,317.94 L92.5,318.47 L93.5,317.99 L94.5,318.44 L95.5,317.97 L96.5,317.7 L97.5,318.09 L98.5,317.64 L99.5,317.67 L100.5,317.57 L101.5,318.2 L102.5,318.47 L103.5,317.9 L104.5,317.85 L105.5,317.93 L106.5,317.85 L107.5,318.19 L108.5,317.89 L109.5,317.65 L110.5,318.36 L111.5,318.07 L112.5,317.51 L113.5,318.35 L114.5,318.23 L115.5,317.85 L116.5,318.13 L117.5,318.42 L118.5,317.9 L119.5,317.93 L120.5,317.8 L121.5,318.05 L122.5,318.16 L123.5,318.24 L124.5,318.45 L125.5,317.65 L126.5,317.87 L127.5,318.35 L128.5,318.29 L129.5,318.09 L130.5,318.18 L131.5,317.84 L132.5,318.44 L133.5,318.05 L134.5,317.9 L135.5,317.68 L136.5,317.62 L137.5,318.4 L138.5,318.3 L139.5,317.53 L140.5,317.82 L141.5,317.98 L142.5,318 L143.5,317.86 L144.5,318.4 L145.5,317.85 L146.5,318.03 L147.5,318.43 L148.5,318.14 L149.5,317.98 L150.5,317.83 L151.5,317.55 L152.5,316.07 L153.5,313.28 L154.5,309.15 L155.5,304.83 L156.5,300.1 L157.5,295.26 L158.5,290.85 L159.5,285.15 L160.5,278.98 L161.5,272.78 L162.5,266.89 L163.5,260.5 L164.5,255.51 L165.5,250.38 L166.5,245.89 L167.5,241.27 L168.5,237.55 L169.5,233.32 L170.5,230.28 L171.5,227.93 L172.5,226.89 L173.5,227.37 L174.5,228.86 L175.5,231.5 L176.5,234.71 L177.5,237.95 L178.5,241.74 L179.5,244.35 L180.5,247.59 L181.5,249.95 L182.5,252.52 L183.5,255.55 L184.5,258.03 L185.5,259.74 L186.5,261.3 L187.5,263.58 L188.5,265.21 L189.5,266.79 L190.5,268.72 L191.5,269.69 L192.5,271.29 L193.5,272.89 L194.5,274.32 L195.5,276.26 L196.5,277.62 L197.5,278.62 L198.5,279.96 L199.5,281.21 L200.5,282.69 L201.5,283.85 L202.5,285.09 L203.5,285.64 L204.5,286.97 L205.5,287.43 L206.5,288.19 L207.5,288.83 L208.5,289.5 L209.5,290.67 L210.5,291.3 L211.5,291.68 L212.5,291.86 L213.5,292.4 L214.5,292.9 L215.5,293.54 L216.5,294.32 L217.5,294.34 L218.5,295.15 L219.5,295.72 L220.5,295.72 L221.5,296.44 L222.5,297.11 L223.5,297.37 L224.5,297.68 L225.5,298.37 L226.5,298.55 L227.5,298.73 L228.5,299.13 L229.5,299.86 L230.5,300.14 L231.5,300.51 L232.5,300.59 L233.5,300.61 L234.5,300.95 L235.5,301.4 L236.5,301.91 L237.5,301.73 L238.5,302.58 L239.5,302.86 L240.5,302.95 L241.5,302.88 L242.5,303.71 L243.5,303.72 L244.5,304.16 L245.5,304.36 L246.5,304.73 L247.5,304.77 L248.5,305.41 L249.5,305.65 L250.5,305.88 L251.5,305.9 L252.5,305.93 L253.5,306.21 L254.5,306.36 L255.5,307.03 L256.5,307.18 L257.5,307.39 L258.5,307.63 L259.5,307.96 L260.5,307.96 L261.5,307.9 L262.5,308.41 L263.5,308.26 L264.5,308.7 L265.5,308.57 L266.5,309.25 L267.5,309.18 L268.5,309.21 L269.5,309.84 L270.5,309.42 L271.5,310.19 L272.5,310.23 L273.5,309.95 L274.5,310.53 L275.5,310.54 L276.5,310.9 L277.5,310.81 L278.5,310.82 L279.5,311.29 L280.5,310.81 L281.5,311.4 L282.5,311.03 L283.5,311.25 L284.5,311.23 L285.5,311.86 L286.5,311.65 L287.5,311.94 L288.5,311.7 L289.5,312.13 L290.5,312.16 L291.5,311.86 L292.5,312.23 L293.5,312.48 L294.5,312.22 L295.5,312.62 L296.5,312.46 L297.5,312.62 L298.5,313.11 L299.5,313.23 L300.5,313.38 L301.5,313.09 L302.5,313.31 L303.5,313.6 L304.5,313.69 L305.5,313.6 L306.5,314 L307.5,313.79 L308.5,314.28 L309.5,314.05 L310.5,313.89 L311.5,314.41 L312.5,314.04 L313.5,314.45 L314.5,314.01 L315.5,314.62 L316.5,314.21 L317.5,314.18 L318.5,313.46 L319.5,313.38 L320.5,312.57 L321.5,311.58 L322.5,310.73 L323.5,308.5 L324.5,306.59 L325.5,303.5 L326.5,300.57 L327.5,296.49 L328.5,291.18 L329.5,286.31 L330.5,280.88 L331.5,275.65 L332.5,270.59 L333.5,265.92 L334.5,262.94 L335.5,260.28 L336.5,259.55 L337.5,260.36 L338.5,260.79 L339.5,262.3 L340.5,264.47 L341.5,266.74 L342.5,269.35 L343.5,272.9 L344.5,275.77 L345.5,279.29 L346.5,282.23 L347.5,285.95 L348.5,288.62 L349.5,292.09 L350.5,294.67 L351.5,297.49 L352.5,299.67 L353.5,301.66 L354.5,303.44 L355.5,305.3 L356.5,306.43 L357.5,307.43 L358.5,309.07 L359.5,309.92 L360.5,310.64 L361.5,311.38 L362.5,311.64 L363.5,312.34 L364.5,313.07 L365.5,313.6 L366.5,313.96 L367.5,313.79 L368.5,314.48 L369.5,314.69 L370.5,314.87 L371.5,314.87 L372.5,315.08 L373.5,315.64 L374.5,315.88 L375.5,315.86 L376.5,316.14 L377.5,316.5 L378.5,316.87 L379.5,316.85 L380.5,316.56 L381.5,317.41 L382.5,317.01 L383.5,317.72 L384.5,317.84 L385.5,317.08 L386.5,317.59 L387.5,318.03 L388.5,317.5 L389.5,317.71 L390.5,317.52 L391.5,317.27 L392.5,317.48 L393.5,317.43 L394.5,317.62 L395.5,317.98 L396.5,317.94 L397.5,318.34 L398.5,318.09 L399.5,317.78 L400.5,318.38 L401.5,318.08 L402.5,317.99 L403.5,318.32 L404.5,318.14 L405.5,317.83 L406.5,318.08 L407.5,317.78 L408.5,318.45 L409.5,317.73 L410.5,318.46 L411.5,317.55 L412.5,317.5 L413.5,318.05 L414.5,317.7 L415.5,318 L416.5,317.61 L417.5,318.33 L418.5,318.17 L419.5,318.18 L420.5,318.43 L421.5,318.49 L422.5,318.18 L423.5,318.21 L424.5,317.5 L425.5,317.55 L426.5,317.93 L427.5,318.47 L428.5,317.81 L429.5,318.07 L430.5,317.51 L431.5,317.92 L432.5,318.4 L433.5,318.09 L434.5,318.32 L435.5,317.51 L436.5,317.7 L437.5,317.68 L438.5,318.33 L439.5,317.6 L440.5,318.43 L441.5,317.77 L442.5,318.38 L443.5,318.02 L444.5,317.82 L445.5,318.47 L446.5,317.91 L447.5,318.2 L448.5,317.57 L449.5,318.33 L450.5,318.48 L451.5,317.61 L452.5,318.25 L453.5,317.77 L454.5,317.65 L455.5,317.86 L456.5,318.16 L457.5,318.45 L458.5,318.49 L459.5,318.49 L460.5,318.12" stroke="#e27a40" stroke-width="1.8" fill="none" stroke-linejoin="round"/>
<path d="M372,319.8 l1.37,0.02 M374.51,317.18 l1.23,-0.44 M378.15,317.18 l2.25,0.51 M378.96,318.67 l2.27,0.08 M381.59,319.22 l1.24,-0.47 M382.52,316.48 l1.11,0.3 M383.97,317.69 l1.05,-0.19 M386.53,317.4 l2.38,0.53 M387.27,319.42 l1.38,-0.29 M388.66,317.41 l2.26,0.47 M391.15,319.67 l1.96,0.45 M392.15,315.91 l2.27,0.38 M393.05,316.7 l2.13,-0.04 M395.06,318.46 l1.55,-0.47 M395.77,318.25 l1.67,0.58 M397.78,319.91 l1.84,-0.35 M398.27,317.25 l2.17,0.47 M399.14,317.65 l1.81,0.04 M401.78,316.97 l1.67,-0.32 M402.29,319.23 l1.68,0.26 M404.15,317.2 l1.35,0.41 M404.82,319.45 l2.17,0.26 M405.36,318.76 l1.45,0.27 M406.21,318.21 l2.22,0.58 M410.48,318.05 l1.9,0.27 M412.3,316.21 l1.38,0.02 M413.97,316.87 l2.42,0.55 M415.55,316.69 l1.18,-0.16 M416.05,316.85 l1.87,-0.06 M417.64,318.16 l1.71,-0.2 M420.26,319.93 l1.28,0.25 M420.83,316.29 l1.22,0.03 M421.7,316.2 l1.93,0.43 M422.23,319.01 l1.71,0.52 M425.36,318.95 l1.07,0.52 M427.32,319.89 l2.42,0.55 M428.8,318.3 l2.22,-0.27 M431.35,316.35 l1.62,0.54 M433.6,316.41 l1.77,0.36 M436.31,316.7 l1.02,-0.21 M437.71,318.73 l2.09,0.31 M441.84,316.34 l1.64,-0.09 M442.58,317.32 l1.59,-0.09 M443.56,316.18 l1.03,0.27 M444.23,318.29 l1.55,-0.31 M445.15,319.74 l1.43,-0.04 M445.59,319.55 l2.25,-0.31 M446.41,319.15 l1.7,-0.14 M448.28,318.8 l1.69,-0.43 M450.7,316.85 l2.39,0.28 M451.24,317.24 l1.86,-0.21 M453.1,317.18 l1.91,-0.47 M453.87,318.48 l1.51,-0.56 M455.81,316.9 l1.66,0.49 M456.33,316.35 l1.32,-0.2 M458.84,318.66 l1.57,-0.27" stroke="#ee7a30" stroke-width="1.6" fill="none"/><path d="M375.33,318.24 l1.18,0.36 M384.84,318.8 l2.18,0.04 M385.32,317.42 l1.44,-0.26 M385.85,317.17 l1.42,0.44 M389.14,318.47 l2.11,0.51 M389.72,317.96 l1.43,-0.06 M396.39,317.56 l1.26,0.53 M397.11,317.59 l1.38,-0.22 M400.47,317.07 l1.1,0.06 M401.01,315.98 l1.73,-0.56 M403.18,318.3 l1.98,-0.13 M403.69,319.89 l2.01,0.04 M407.21,315.84 l2.32,-0.56 M409.1,317.78 l1,-0.29 M409.96,318.47 l1.66,0.28 M411.07,317.24 l1.14,-0.18 M413.23,319.74 l1.43,0.3 M419.61,317.89 l2,-0.37 M424.72,319.09 l2.08,-0.22 M426.25,317.78 l2.22,-0.24 M426.66,317.85 l1.12,0.43 M430.6,316.68 l1.22,0.48 M432.91,318.87 l1.06,0.23 M434.53,317.56 l1.4,-0.31 M435.32,318.19 l2.34,0.01 M436.78,317.56 l1.05,0.5 M439.52,316.68 l1.16,0.27 M447.29,319.43 l2.29,-0.46 M449.12,316.09 l2.21,0.2 M450.05,319.72 l1.92,-0.48 M459.77,317.31 l2.05,-0.05" stroke="#c83a3a" stroke-width="1.3" fill="none"/><path d="M372.61,319.17 l1.26,0.07 M373.57,315.88 l1.41,-0.01 M374.07,319.33 l1.6,0.06 M375.81,319.25 l2.23,-0.34 M376.7,316.76 l1,0.44 M377.16,319.02 l2.16,0.16 M379.51,318.08 l1.2,0.43 M380.05,318.73 l2.01,-0.45 M380.91,317.09 l1.15,-0.26 M383.32,316.15 l1.37,0.2 M387.98,319.03 l1.23,-0.08 M390.67,319.6 l2.39,-0.03 M393.56,319.16 l2.1,-0.49 M394.1,317.38 l1.62,0.09 M399.58,318.6 l2.03,-0.14 M407.84,319.03 l1.47,-0.35 M408.57,318.97 l1.73,-0.56 M411.81,316.53 l2.1,-0.46 M414.57,317.15 l1.3,-0.08 M414.98,319.31 l1.46,-0.58 M416.77,319.05 l2.09,-0.19 M418.58,318.35 l1.15,0.51 M419,318.74 l1.36,0.04 M422.87,319.82 l1.52,0.56 M423.39,318.09 l2.41,-0.46 M424.26,318.95 l1.9,-0.48 M428.14,318.86 l1.91,-0.58 M429.76,316.94 l1.06,-0.44 M432,316.04 l2.5,-0.47 M438.55,316.67 l1.83,0.11 M439.05,317.25 l2.24,0.37 M440.31,319.07 l1.77,0.07 M441.1,318.56 l1.88,-0.01 M452.13,316.56 l2.08,-0.2 M454.61,316.52 l1.46,0.14 M455.32,316.87 l1.88,-0.27 M457.19,317.5 l1.71,-0.12 M458.13,317.59 l2.38,-0.3" stroke="#7a4a8a" stroke-width="1.1" fill="none"/>
<path d="M72,316.82 L73.5,316.98 L75,316.66 L76.5,315.66 L78,316.83 L79.5,316.53 L81,315.99 L82.5,316.89 L84,316.76 L85.5,316.85 L87,315.95 L88.5,316.41 L90,316.13 L91.5,316.01 L93,316.67 L94.5,316.46 L96,316.06 L97.5,316.36 L99,316.9 L100.5,316.39 L102,316.88 L103.5,316.39 L105,316.99 L106.5,315.64 L108,316.24 L109.5,316.37 L111,316.62 L112.5,316.96 L114,316.47 L115.5,316.27 L117,316.49 L118.5,316.35 L120,316.59 L121.5,316.93 L123,315.62 L124.5,316.05 L126,316.83 L127.5,315.68 L129,316.71 L130.5,315.64 L132,316.51 L133.5,316.72 L135,315.93 L136.5,316.13 L138,315.92 L139.5,316.59 L141,316.34 L142.5,316.45 L144,316.06 L145.5,316.42 L147,316.94 L148.5,316.69" stroke="#f0d860" stroke-width="1" fill="none" stroke-dasharray="2 2.5"/>
<path d="M71,318.5 L72.3,317.77 L73.6,319.2 L74.9,318.57 L76.2,318.86 L77.5,318.4 L78.8,317.54 L80.1,318.95 L81.4,317.72 L82.7,317.87 L84,318.51 L85.3,317.75 L86.6,318.23 L87.9,318.68 L89.2,317.57 L90.5,318.59 L91.8,317.59 L93.1,318.26 L94.4,318.57 L95.7,318.64 L97,317.48 L98.3,317.74 L99.6,319.13 L100.9,318.1 L102.2,318.16 L103.5,318.07 L104.8,318.65 L106.1,318.73 L107.4,318.57 L108.7,318.12 L110,318.43 L111.3,318.33 L112.6,317.74 L113.9,319.11 L115.2,319.14 L116.5,318.8 L117.8,319.19 L119.1,318.24 L120.4,318.91 L121.7,317.83 L123,318.74 L124.3,318.69 L125.6,319.09 L126.9,318.9 L128.2,318.98 L129.5,317.88 L130.8,318.82 L132.1,318.26 L133.4,317.96 L134.7,318.06 L136,318.84 L137.3,318.92 L138.6,318.92 L139.9,318.61 L141.2,317.71 L142.5,317.68 L143.8,318.42 L145.1,317.78 L146.4,318.01 L147.7,317.58 L149,317.68 L150.3,318.69 L151.6,317.8 L152.9,318.93 L154.2,317.99 L155.5,318.93 L156.8,317.94 L158.1,317.88 L159.4,318.11 L160.7,317.42 L162,318.18 L163.3,318.08 L164.6,317.42 L165.9,318.95 L167.2,318.08 L168.5,317.4 L169.8,319.13 L171.1,317.81 L172.4,317.86 L173.7,317.44 L175,317.58 L176.3,318.68 L177.6,318.45 L178.9,318.31 L180.2,317.84 L181.5,317.92 L182.8,319.15 L184.1,318.07 L185.4,319.18 L186.7,319 L188,317.62 L189.3,318.93 L190.6,317.44 L191.9,318.68 L193.2,318.86 L194.5,318.65 L195.8,318.39 L197.1,318.86 L198.4,317.68 L199.7,318.37 L201,317.88 L202.3,318.12 L203.6,317.74 L204.9,318.67 L206.2,318.43 L207.5,318.8 L208.8,318.53 L210.1,318.48 L211.4,319.06 L212.7,318.86 L214,318.42 L215.3,317.99 L216.6,319.07 L217.9,318.07 L219.2,317.58 L220.5,318 L221.8,318.67 L223.1,319.08 L224.4,318.56 L225.7,318.59 L227,319.09 L228.3,318.8 L229.6,318.2 L230.9,318.23 L232.2,318.77 L233.5,317.97 L234.8,317.6 L236.1,318.52 L237.4,318.86 L238.7,317.85 L240,318.63 L241.3,319.01 L242.6,317.63 L243.9,317.64 L245.2,318.29 L246.5,318 L247.8,319.11 L249.1,319.19 L250.4,318.2 L251.7,318.83 L253,318.54 L254.3,317.71 L255.6,319.15 L256.9,317.71 L258.2,317.54 L259.5,318.21 L260.8,317.43 L262.1,318.27 L263.4,318.14 L264.7,319.12 L266,318.14 L267.3,318.93 L268.6,318.8 L269.9,318.46 L271.2,317.83 L272.5,317.95 L273.8,318.28 L275.1,318.11 L276.4,318.56 L277.7,318.31 L279,317.98 L280.3,318.49 L281.6,319.19 L282.9,317.76 L284.2,318 L285.5,317.42 L286.8,317.57 L288.1,317.5 L289.4,318.16 L290.7,318.91 L292,318.66 L293.3,319.14 L294.6,318.91 L295.9,318.45 L297.2,318.44 L298.5,317.42 L299.8,318.09 L301.1,317.87 L302.4,318.52 L303.7,317.52 L305,318.38 L306.3,318.08 L307.6,318.29 L308.9,318.13 L310.2,317.58 L311.5,318.72 L312.8,318.84 L314.1,318.48 L315.4,317.61 L316.7,318.48" stroke="#a8302a" stroke-width="1.1" fill="none" stroke-dasharray="3 2"/>
<path d="M154.2,274.53 h1 M216.21,263.49 h1 M166.63,271.86 h1 M185.35,267.53 h1 M277.35,242.51 h1 M146.55,275.66 h1 M174.27,271.93 h1 M270.66,243.49 h1 M348.9,211.18 h1 M97.61,276.95 h1 M195.88,265.09 h1 M190.82,268.16 h1 M107.04,277.74 h1 M222.18,261.35 h1 M202.52,264.63 h1 M305.68,231.94 h1 M134.68,275.66 h1 M321.52,225.03 h1 M261.16,249.46 h1 M208.87,264.08 h1 M152.22,273.1 h1 M314.56,229.5 h1 M184.66,267.34 h1 M344.3,214.32 h1 M252.28,253.48 h1 M308.89,230.62 h1 M122.31,278.22 h1 M274.73,241.57 h1 M141.6,273.99 h1 M260.07,249.66 h1 M93.74,277.13 h1 M173.15,270.41 h1 M176.22,271.53 h1 M263.63,249.1 h1 M295.15,236.48 h1 M231.01,257.94 h1 M118.28,277.42 h1 M105.85,277.72 h1 M94.59,276.35 h1 M184.6,269.8 h1 M191.48,267.38 h1 M196.71,267.78 h1 M224.97,261.15 h1 M341.42,214.58 h1 M202.05,266.6 h1 M341.83,214.58 h1 M257.32,250.44 h1 M191.01,266.58 h1 M161.04,273.74 h1 M99.05,278.35 h1 M316.97,227.96 h1 M203.41,264.51 h1 M160.36,273.66 h1 M224.04,260.94 h1 M333.89,216.98 h1 M150.37,273.29 h1 M197.05,268.04 h1 M204.42,263.8 h1 M167.33,271.33 h1 M274.11,244.2 h1 M330.12,221.69 h1 M167,270.92 h1 M93.07,277.21 h1 M121.18,277.83 h1 M92.14,277.83 h1 M146.28,275.44 h1 M111.72,280.16 h1 M223.63,262.05 h1 M303.14,233.16 h1 M153.99,274.02 h1 M307.97,232.49 h1 M282.45,240.72 h1 M335.47,217.81 h1 M244.58,254.91 h1 M114.31,280.31 h1 M269.71,244.68 h1 M276.91,242.13 h1 M218.18,263.23 h1 M202.52,266.34 h1 M241.45,257.57 h1 M160,271.99 h1 M110.42,278.15 h1 M217.89,263.15 h1 M118.11,278.23 h1 M220.02,260.91 h1 M185.95,268.73 h1 M321.86,225.34 h1 M345.04,210.85 h1 M347.44,209.39 h1 M155.38,271.86 h1" stroke="#e89a90" stroke-width="0.9" fill="none"/>
<path d="M86.5,280.39 L87.5,280.87 L88.5,280.4 L89.5,281.31 L90.5,282.06 L91.5,281.66 L92.5,282.02 L93.5,283.14 L94.5,281.77 L95.5,282.33 L96.5,282.79 L97.5,282.72 L98.5,283.36 L99.5,283.88 L100.5,282.88 L101.5,283.5 L102.5,283.77 L103.5,284.09 L104.5,285.11 L105.5,285.11 L106.5,284.09 L107.5,283.79 L108.5,284.23 L109.5,284.7 L110.5,284.53 L111.5,285.32 L112.5,284.65 L113.5,283.42 L114.5,283.99 L115.5,283.55 L116.5,283.55 L117.5,284.24 L118.5,284.26 L119.5,282.66 L120.5,282.31 L121.5,283.03 L122.5,282.54 L123.5,282.88 L124.5,282.62 L125.5,281.14 L126.5,281.55 L127.5,281.25 L128.5,282.24 L129.5,281.56 L130.5,281.61 L131.5,280.65 L132.5,280.2 L133.5,280.63 L134.5,281.19 L135.5,280.83 L136.5,280.64 L137.5,279.6 L138.5,279.57 L139.5,280.29 L140.5,279.75 L141.5,279.87 L142.5,279.1 L143.5,279.53 L144.5,279.34 L145.5,278.93 L146.5,278.98 L147.5,279.8 L148.5,279.89 L149.5,278.52 L150.5,278.89 L151.5,278.04 L152.5,278.84 L153.5,278.95 L154.5,279.28 L155.5,277.2 L156.5,277.88 L157.5,277.33 L158.5,278.28 L159.5,277.95 L160.5,278.62 L161.5,277.12 L162.5,277.39 L163.5,277.51 L164.5,277.55 L165.5,277.5 L166.5,276.28 L167.5,276.12 L168.5,276.48 L169.5,276.5 L170.5,276.39 L171.5,276.58 L172.5,275.64 L173.5,275.58 L174.5,276.03 L175.5,275.56 L176.5,275.63 L177.5,276.15 L178.5,274.63 L179.5,274.38 L180.5,274.27 L181.5,274.77 L182.5,274.32 L183.5,274.91 L184.5,273.39 L185.5,273.49 L186.5,272.88 L187.5,272.89 L188.5,273.51 L189.5,274.04 L190.5,271.92 L191.5,271.84 L192.5,272.57 L193.5,272.27 L194.5,272.43 L195.5,272.94 L196.5,271.55 L197.5,271.19 L198.5,271.81 L199.5,271.05 L200.5,271.88 L201.5,271.45 L202.5,270.63 L203.5,270.01 L204.5,270.32 L205.5,270.86 L206.5,270.42 L207.5,270.35 L208.5,268.84 L209.5,268.48 L210.5,269.26 L211.5,269.19 L212.5,268.77 L213.5,269.22 L214.5,268.91 L215.5,267.74 L216.5,267.24 L217.5,267.64 L218.5,267.12 L219.5,267.75 L220.5,267.69 L221.5,265.57 L222.5,265.79 L223.5,266.31 L224.5,266.38 L225.5,266.27 L226.5,266.03 L227.5,265.54 L228.5,264.53 L229.5,264.54 L230.5,264.84 L231.5,264.25 L232.5,264.55 L233.5,264.95 L234.5,262.63 L235.5,262.53 L236.5,263.27 L237.5,263.64 L238.5,263.17 L239.5,262.8 L240.5,262.96 L241.5,261.3 L242.5,261.3 L243.5,261.7 L244.5,261.6 L245.5,262.05 L246.5,260.32 L247.5,260.38 L248.5,259.9 L249.5,260.24 L250.5,259.78 L251.5,260.2 L252.5,260.4 L253.5,257.74 L254.5,258.15 L255.5,257.59 L256.5,257.54 L257.5,257.21 L258.5,255.27 L259.5,254.89 L260.5,255.11 L261.5,255.03 L262.5,254.78 L263.5,254.03 L264.5,254.47 L265.5,251.72 L266.5,251.27 L267.5,251.49 L268.5,251.02 L269.5,250.8 L270.5,250.75 L271.5,248.22 L272.5,247.95 L273.5,248.35 L274.5,247.88 L275.5,248.12 L276.5,248.37 L277.5,245.19 L278.5,245.81 L279.5,245.81 L280.5,245.57 L281.5,246.19 L282.5,242.93 L283.5,243.04 L284.5,244.27 L285.5,243.82 L286.5,244.03 L287.5,241.87 L288.5,242.31 L289.5,242.45 L290.5,242.42 L291.5,242.4 L292.5,242.86 L293.5,240.02 L294.5,239.8 L295.5,240.04 L296.5,240.26 L297.5,240.96 L298.5,241.16 L299.5,238.02 L300.5,238.07 L301.5,238.85 L302.5,238.46 L303.5,239.15 L304.5,238.97 L305.5,235.65 L306.5,236.13 L307.5,236.31 L308.5,236.82 L309.5,236.64 L310.5,236.35 L311.5,233.49 L312.5,233.31 L313.5,233.69 L314.5,233.92 L315.5,234.1 L316.5,234.38 L317.5,230.49 L318.5,231.02 L319.5,230.81 L320.5,230.63 L321.5,231.15 L322.5,228.19 L323.5,228.07 L324.5,228.16 L325.5,227.54 L326.5,227.84 L327.5,227.95 L328.5,227.78 L329.5,224.59 L330.5,224.59 L331.5,224.44 L332.5,224.07 L333.5,224.39 L334.5,225.06 L335.5,221.66 L336.5,221.52 L337.5,221.22 L338.5,221.33 L339.5,221.12 L340.5,221.79 L341.5,217.47 L342.5,217.84 L343.5,217.69 L344.5,217.74 L345.5,218.22 L346.5,218.22 L347.5,217.31 L348.5,214.3 L349.5,214.05 L350.5,214.34 L351.5,214.44 L352.5,214.98 L353.5,211.06 L354.5,211.14 L355.5,210.81 L356.5,211.5 L357.5,211.54 L358.5,210.98 L359.5,211" stroke="#cc2c26" stroke-width="3.2" fill="none" stroke-linejoin="round"/>
<path d="M75.5,266.61 L76.5,249 L77.5,248.45 L78.5,254.52 L79.5,260.42 L80.5,265.14 L81.5,270.01 L82.5,274 L83.5,276.72 L84.5,278.59 L85.5,279.72 L86.5,280.39" stroke="#cc3028" stroke-width="2.3" fill="none" stroke-linejoin="round"/>
<path d="M350.91,214.55 L352.52,210.7 M352.12,214.95 L353.27,212.17 M352.64,214.3 L353.89,211.31 M352.4,214.46 L354.66,209.03 M353.49,213.62 L354.98,210.05 M353.86,213.34 L355.48,209.45 M354.8,215.4 L356.89,210.38 M355.82,213.55 L357.12,210.42 M355.63,211.73 L357.13,208.12 M356.62,214.44 L358.56,209.78 M356.34,212.54 L358.82,206.6 M357.75,211.02 L358.97,208.1 M357.92,211.52 L360.21,206.01 M359.05,212.07 L360.68,208.15 M359.61,209.8 L360.9,206.7 M359.98,213.02 L362.45,207.09 M360.96,211.03 L362.49,207.35 M360.35,209.43 L362.83,203.48 M361.69,210.36 L363.31,206.46 M361.55,210.31 L363.95,204.53 M361.92,208.4 L363.92,203.6 M363.24,208.75 L364.63,205.4 M363.55,206.57 L364.94,203.24 M364.24,208.51 L366.04,204.2 M364.79,209.75 L367.15,204.09 M364.64,206.3 L366.92,200.85 M365.77,206.18 L367.12,202.95 M366.92,207.84 L368.24,204.65 M367.1,208.76 L369.18,203.77 M367.24,207.95 L369.47,202.61 M367.27,204.99 L369.31,200.09 M368.07,203.77 L369.44,200.47 M368.44,203.75 L370.11,199.73 M369.51,205.37 L371.21,201.29 M369.73,202.62 L371.33,198.78 M371.02,206.75 L373.41,201.01 M371.41,204.53 L373.63,199.22 M371.87,201.26 L373.37,197.67 M373.14,204.79 L374.73,200.98 M373.41,202.45 L374.7,199.35 M373.93,204.41 L376.16,199.07 M374.52,200.5 L375.87,197.26 M375.53,202.29 L377.19,198.33 M375.05,199.99 L377.32,194.53 M376.77,202.16 L378.38,198.29 M376.61,200.97 L378.77,195.79 M377.19,199.56 L379.28,194.55 M378.34,201.95 L380.51,196.73 M378.61,198.17 L380.13,194.51 M379.92,200.02 L381.48,196.27 M379.06,197.62 L381.51,191.73 M380.54,199.94 L382.4,195.46 M380.86,197.9 L382.56,193.8 M380.51,195.88 L382.9,190.14 M381.13,195.47 L383.19,190.52 M382.67,198.7 L384.76,193.7 M382.86,192.92 L384.03,190.12 M384.23,196.86 L385.58,193.6 M384.8,196.42 L386.17,193.14 M385.18,197.71 L387.34,192.52 M385.43,194.21 L386.96,190.54 M386.37,196.05 L388.44,191.08 M386.92,195.11 L388.73,190.77 M386.83,193.14 L389.17,187.53 M387.83,192.68 L389.74,188.09 M388.39,193.29 L390.84,187.42 M389.45,194.83 L391.57,189.75 M390.34,193.26 L391.69,190.01 M390.18,193.21 L392.45,187.78 M391.24,194.27 L393.27,189.4 M390.69,187.86 L391.95,184.85 M391.47,188.94 L392.97,185.33 M391.21,188.13 L393.59,182.42 M392.98,189.81 L394.74,185.61 M393.61,189.6 L395.23,185.71 M394.69,191.87 L396.82,186.76 M394.44,184.91 L395.77,181.74 M394.83,185.35 L396.55,181.22 M396.38,190.14 L398.82,184.27 M396.48,184.42 L397.67,181.58 M396.35,183.84 L398.21,179.36 M397.8,187.5 L399.71,182.92 M397.7,184.93 L399.84,179.78 M399.21,186.72 L401,182.42 M399.36,182.81 L400.57,179.91 M400.36,184.8 L401.77,181.43 M401.09,187.08 L403.39,181.55 M401.61,182.84 L403,179.51 M401.96,185.46 L404.44,179.51 M401.56,179.21 L403.18,175.3 M403.22,182.4 L404.53,179.27 M402.97,181.34 L405.35,175.64 M403.91,179.52 L405.3,176.18 M404.74,181.87 L407.01,176.43 M405.1,181.08 L407.24,175.94 M407.01,182.13 L408.3,179.02 M407.35,182.82 L409.22,178.32 M407.16,176.08 L408.35,173.23 M407.59,176.29 L409.5,171.71 M408.41,178.65 L410.82,172.86 M410.18,178.96 L411.68,175.36 M409.25,172.29 L410.96,168.17 M410.48,173.03 L412.13,169.08 M410.83,172.72 L412.93,167.66 M411.06,171.21 L413.46,165.47 M412.94,174.22 L414.56,170.33 M411.77,170.16 L414.27,164.17 M413.32,171.7 L415.55,166.37 M415.16,173.7 L417.03,169.21 M414.57,170.71 L417.04,164.77 M415.63,170.68 L417.92,165.19 M415.95,169.09 L418.24,163.58 M417.51,169.43 L418.7,166.58 M417.48,166.62 L418.83,163.37 M417.96,164.55 L419.36,161.18 M418.63,165.37 L420.36,161.21 M417.82,161.46 L419.93,156.39 M418.48,162.31 L420.72,156.93 M420.87,165.19 L422.26,161.85 M420.69,164.41 L422.65,159.71 M419.86,157.67 L421.6,153.5 M421.07,162.47 L423.55,156.54 M420.69,157.38 L422.78,152.37 M421.55,157.66 L423.3,153.47 M422.63,157.34 L424.21,153.55 M422.81,155.54 L424.5,151.47 M423.53,156.75 L425.76,151.4 M423.63,154.2 L425.62,149.4 M426.19,159.43 L427.49,156.32 M426.2,157.13 L427.85,153.17 M426.23,156.88 L428.4,151.66 M426.55,155.05 L428.63,150.06 M427.41,153.22 L428.81,149.85 M427.75,154.88 L430.11,149.21 M428.95,153.26 L430.54,149.43 M429.28,154.11 L431.42,148.96 M429.69,154.61 L432.19,148.61 M431.12,155.32 L432.87,151.14 M431.77,153.73 L433.2,150.31 M432.63,154.05 L433.87,151.07 M431.57,150.33 L433.73,145.16 M433.23,153.51 L435.29,148.58 M432.16,144.73 L433.36,141.84 M432.27,144.59 L434.13,140.12 M433.06,146.01 L435.37,140.47 M435.59,151.3 L437.22,147.37 M435.37,146.87 L436.87,143.25 M434.89,141.42 L436.38,137.84 M437.16,149.14 L438.99,144.75 M436.16,143.79 L438.13,139.05 M436.33,141.68 L438.53,136.4 M438.02,144.33 L439.74,140.2 M439.29,148.82 L441.68,143.09 M439.63,145.47 L441.72,140.44 M438.36,138.93 L440.63,133.48 M440.72,142.89 L442.29,139.11 M441.71,145.45 L443.58,140.96 M440.86,139.48 L442.48,135.59 M442.33,145.87 L444.7,140.18 M441.13,135.38 L442.84,131.26 M442.94,142.28 L445.18,136.9 M444.26,141.05 L445.58,137.89 M442.5,135.31 L444.79,129.82 M444.62,137.49 L446.09,133.96 M444.36,133.06 L445.95,129.24 M446.69,140.94 L448.4,136.83 M446.85,138.65 L448.79,134.01 M447.35,137.95 L449.75,132.19 M446.59,129.97 L448.76,124.78 M447.9,131 L449.52,127.13 M447.99,127.42 L449.73,123.24 M450.63,135.98 L452.45,131.6 M449.95,130.73 L452.14,125.48 M450.21,128.82 L452.37,123.65 M452.33,131.63 L453.9,127.86 M452.52,129.28 L454.45,124.66 M452.97,125.8 L454.23,122.78 M452.7,122.39 L454.02,119.22 M453.67,126.1 L455.81,120.96 M453.03,118.53 L455.15,113.43" stroke="#d4352c" stroke-width="1.5" fill="none" stroke-linecap="round"/>
<path d="M73.6,303 L74.5,288 L75.6,268 L76.3,256" stroke="#c84a40" stroke-width="1.4" stroke-dasharray="2.2 1.6" fill="none"/>
<path d="M75.85,221.8 L79.15,221.8 L79.15,229.3 L81.25,229.3 L77.5,237.3 L73.75,229.3 L75.85,229.3 Z" fill="#1a58a8"/>
<path d="M101.55,258.7 L104.85,258.7 L104.85,266.3 L106.95,266.3 L103.2,274.3 L99.45,266.3 L101.55,266.3 Z" fill="#18a050"/>
<path d="M128.45,255.6 L131.75,255.6 L131.75,264 L133.85,264 L130.1,272 L126.35,264 L128.45,264 Z" fill="#111111"/>
<path d="M173.05,243 L176.35,243 L176.35,251.8 L178.45,251.8 L174.7,259.8 L170.95,251.8 L173.05,251.8 Z" fill="#d0208c"/>
<path d="M244.65,222.8 L247.95,222.8 L247.95,229.6 L250.05,229.6 L246.3,237.6 L242.55,229.6 L244.65,229.6 Z" fill="#68c0e8"/>
<path d="M353.05,178.9 L356.35,178.9 L356.35,186.4 L358.45,186.4 L354.7,194.4 L350.95,186.4 L353.05,186.4 Z" fill="#f8d830"/>
<path d="M452.55,86.7 L455.85,86.7 L455.85,93.8 L457.95,93.8 L454.2,101.8 L450.45,93.8 L452.55,93.8 Z" fill="#ee7a20"/>
</g>
<!-- frame -->
<rect x="69.6" y="50.4" width="391.6" height="284.9" fill="none" stroke="#3c3c3c" stroke-width="1.5"/>
<g stroke="#3c3c3c" stroke-width="1.5">
<!-- left ticks -->
<path d="M69.6,88.1h5 M69.6,127.6h5 M69.6,165.6h5 M69.6,203.7h5 M69.6,242h5 M69.6,279.5h5 M69.6,318h5"/>
<!-- right ticks -->
<path d="M461.2,88.5h-5 M461.2,127h-5 M461.2,165.6h-5 M461.2,202.6h-5 M461.2,241.6h-5 M461.2,279.5h-5 M461.2,318h-5"/>
<!-- bottom ticks -->
<path d="M148,335.3v-5 M226.25,335.3v-5 M305,335.3v-5 M381.75,335.3v-5"/>
<!-- top ticks -->
<path d="M169,50.4v5.3 M281.5,50.4v5.3 M403,50.4v5.3"/>
</g>
<!-- legend -->
<rect x="174.5" y="62.5" width="2" height="134.3" fill="#1a1a1a"/>
<rect x="84" y="194.9" width="92.5" height="1.9" fill="#1a1a1a"/>
<rect x="82.5" y="60.5" width="92" height="134.5" fill="#fff" stroke="#6a6a6a" stroke-width="1"/>
<g font-size="13.5">
<text x="89.7" y="78.4" fill="#9e3e62" textLength="58.5" lengthAdjust="spacingAndGlyphs">UV 0 min</text>
<text x="89.7" y="94" fill="#3b5d7a" textLength="57.8" lengthAdjust="spacingAndGlyphs">UV 4 min</text>
<text x="89.7" y="109.8" fill="#3a9272" textLength="65.2" lengthAdjust="spacingAndGlyphs">UV 23 min</text>
<text x="89.7" y="125.4" fill="#222" textLength="65.5" lengthAdjust="spacingAndGlyphs">UV 46 min</text>
<text x="89.7" y="141.1" fill="#a03880" textLength="64.6" lengthAdjust="spacingAndGlyphs">UV 76 min</text>
<text x="89.7" y="156.9" fill="#8cbccc" textLength="70.8" lengthAdjust="spacingAndGlyphs">UV 146 min</text>
<text x="89.7" y="172.7" fill="#efe08a" textLength="69.9" lengthAdjust="spacingAndGlyphs">UV 218 min</text>
<text x="89.7" y="188.2" fill="#b48a68" textLength="73.4" lengthAdjust="spacingAndGlyphs">UV 286 min</text>
</g>
<!-- left labels -->
<g font-size="14.2" fill="#383838">
<text x="37.6" y="95" textLength="22.5" lengthAdjust="spacingAndGlyphs">0.12</text>
<text x="47.1" y="131.2" textLength="16" lengthAdjust="spacingAndGlyphs">0.1</text>
<text x="30.7" y="169.5" textLength="28.1" lengthAdjust="spacingAndGlyphs">0.08</text>
<text x="30.7" y="207.9" textLength="28.1" lengthAdjust="spacingAndGlyphs">0.06</text>
<text x="30.2" y="246.5" textLength="28.6" lengthAdjust="spacingAndGlyphs">0.04</text>
<text x="31.1" y="285" textLength="27.7" lengthAdjust="spacingAndGlyphs">0.02</text>
<text x="56.4" y="322.5" textLength="8.2" lengthAdjust="spacingAndGlyphs">0</text>
</g>
<!-- right labels -->
<g font-size="14.2" fill="#2f4d62">
<text x="466.1" y="94.75" textLength="11.4" lengthAdjust="spacingAndGlyphs">12</text>
<text x="466.1" y="131.2" textLength="14.7" lengthAdjust="spacingAndGlyphs">10</text>
<text x="466.1" y="169.9">8</text>
<text x="466.1" y="208.6">6</text>
<text x="466.1" y="246.8">4</text>
<text x="466.1" y="286.3">2</text>
<text x="466.1" y="323.4">0</text>
</g>
<!-- bottom labels -->
<g font-size="14.2" fill="#383838">
<text x="58.5" y="355" textLength="25.5" lengthAdjust="spacingAndGlyphs">300</text>
<text x="136" y="355" textLength="25.5" lengthAdjust="spacingAndGlyphs">400</text>
<text x="212.5" y="355" textLength="26.2" lengthAdjust="spacingAndGlyphs">500</text>
<text x="290" y="355" textLength="26.2" lengthAdjust="spacingAndGlyphs">600</text>
<text x="367" y="355" textLength="25.5" lengthAdjust="spacingAndGlyphs">700</text>
<text x="444" y="355" textLength="26" lengthAdjust="spacingAndGlyphs">800</text>
</g>
<!-- top labels -->
<g font-size="14.2" fill="#36586e">
<text x="67" y="43.1" textLength="8.6" lengthAdjust="spacingAndGlyphs">0</text>
<text x="152" y="43.1" textLength="35.2" lengthAdjust="spacingAndGlyphs">5000</text>
<text x="264" y="42.8" textLength="33.2" lengthAdjust="spacingAndGlyphs">1 x 10</text>
<text x="297.6" y="35.5" font-size="7.5">4</text>
<text x="377" y="42.8" textLength="44.5" lengthAdjust="spacingAndGlyphs">1.5 x 10</text>
<text x="422.2" y="35.5" font-size="7.5">4</text>
</g>
<!-- axis titles -->
<text x="232" y="20.5" font-size="12.4" fill="#26435a" stroke="#26435a" stroke-width="0.4" textLength="51" lengthAdjust="spacingAndGlyphs">Time (s)</text>
<text x="232.2" y="377.5" font-size="12.4" fill="#222" stroke="#222" stroke-width="0.4" textLength="50.8" lengthAdjust="spacingAndGlyphs">Time (s)</text>
<text transform="translate(19.2,240.6) rotate(-90)" x="0" y="0" font-size="12.6" fill="#222" stroke="#222" stroke-width="0.4" textLength="93" lengthAdjust="spacingAndGlyphs">UV Absorption</text>
<text transform="translate(491.2,172) rotate(90)" x="0" y="0" font-size="12.8" fill="#1f5e92" stroke="#1f5e92" stroke-width="0.55" textLength="45" lengthAdjust="spacingAndGlyphs">Mw/Mo</text>
</svg>
</body></html>
